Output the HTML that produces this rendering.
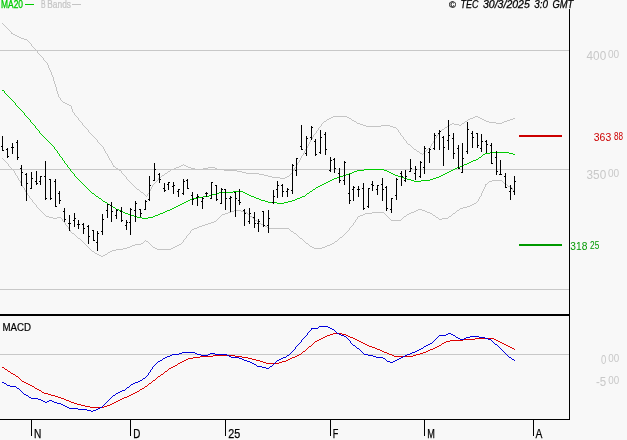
<!DOCTYPE html>
<html><head><meta charset="utf-8"><title>chart</title>
<style>
html,body{margin:0;padding:0;background:#f8f8f8;}
body{width:627px;height:440px;overflow:hidden;font-family:"Liberation Sans",sans-serif;}
svg{display:block;will-change:transform;}
text{font-family:"Liberation Sans",sans-serif;}
</style></head><body>
<svg width="627" height="440" viewBox="0 0 627 440">
<rect x="0" y="0" width="627" height="440" fill="#f8f8f8"/>

<rect x="0" y="50" width="569" height="1" fill="#c8c8c8"/>
<rect x="0" y="169" width="569" height="1" fill="#c8c8c8"/>
<rect x="0" y="289" width="569" height="1" fill="#c8c8c8"/>
<rect x="0" y="354" width="569" height="1" fill="#c8c8c8"/>
<path d="M2 23h1v1h-1zM3 24h1v1h-1zM4 25h1v1h-1zM5 26h1v1h-1zM6 27h1v1h-1zM7 28h1v1h-1zM8 29h1v1h-1zM9 30h1v1h-1zM10 31h1v1h-1zM11 32h1v2h-1zM12 33h1v1h-1zM13 34h1v1h-1zM14 34h1v1h-1zM15 35h1v1h-1zM16 35h1v1h-1zM17 36h1v1h-1zM18 36h1v1h-1zM19 37h1v1h-1zM20 37h1v1h-1zM21 38h1v1h-1zM22 38h1v1h-1zM23 38h1v1h-1zM24 39h1v1h-1zM25 39h1v1h-1zM26 39h1v1h-1zM27 40h1v1h-1zM28 41h1v1h-1zM29 42h1v1h-1zM30 43h1v1h-1zM31 44h1v2h-1zM32 46h1v1h-1zM33 47h1v1h-1zM34 48h1v1h-1zM35 49h1v1h-1zM36 50h1v1h-1zM37 51h1v2h-1zM38 53h1v1h-1zM39 54h1v1h-1zM40 55h1v1h-1zM41 56h1v1h-1zM42 57h1v1h-1zM43 58h1v2h-1zM44 60h1v1h-1zM45 61h1v1h-1zM46 62h1v1h-1zM47 63h1v2h-1zM48 65h1v3h-1zM49 68h1v2h-1zM50 70h1v2h-1zM51 72h1v3h-1zM52 75h1v2h-1zM53 77h1v4h-1zM54 81h1v3h-1zM55 84h1v3h-1zM56 87h1v4h-1zM57 91h1v3h-1zM58 94h1v3h-1zM59 97h1v1h-1zM60 98h1v2h-1zM61 100h1v1h-1zM62 101h1v1h-1zM63 102h1v1h-1zM64 102h1v1h-1zM65 103h1v1h-1zM66 103h1v1h-1zM67 104h1v1h-1zM68 104h1v1h-1zM69 105h1v1h-1zM70 105h1v1h-1zM71 106h1v3h-1zM72 109h1v3h-1zM73 112h1v1h-1zM74 113h1v2h-1zM75 115h1v1h-1zM76 116h1v1h-1zM77 117h1v1h-1zM78 118h1v2h-1zM79 120h1v1h-1zM80 121h1v1h-1zM81 122h1v1h-1zM82 123h1v2h-1zM83 125h1v1h-1zM84 126h1v1h-1zM85 127h1v1h-1zM86 128h1v1h-1zM87 129h1v1h-1zM88 130h1v2h-1zM89 132h1v1h-1zM90 133h1v1h-1zM91 134h1v1h-1zM92 135h1v1h-1zM93 136h1v1h-1zM94 137h1v1h-1zM95 138h1v1h-1zM96 139h1v1h-1zM97 140h1v2h-1zM98 142h1v1h-1zM99 143h1v1h-1zM100 144h1v1h-1zM101 145h1v1h-1zM102 146h1v1h-1zM103 147h1v2h-1zM104 149h1v2h-1zM105 151h1v2h-1zM106 153h1v1h-1zM107 154h1v2h-1zM108 156h1v2h-1zM109 158h1v2h-1zM110 160h1v1h-1zM111 161h1v2h-1zM112 163h1v2h-1zM113 165h1v2h-1zM114 166h1v1h-1zM115 167h1v1h-1zM116 168h1v1h-1zM117 168h1v1h-1zM118 169h1v1h-1zM119 170h1v1h-1zM120 170h1v1h-1zM121 171h1v2h-1zM122 173h1v1h-1zM123 174h1v1h-1zM124 175h1v1h-1zM125 176h1v1h-1zM126 177h1v2h-1zM127 179h1v1h-1zM128 180h1v1h-1zM129 181h1v1h-1zM130 182h1v1h-1zM131 183h1v1h-1zM132 184h1v1h-1zM133 185h1v1h-1zM134 186h1v1h-1zM135 187h1v1h-1zM136 188h1v1h-1zM137 189h1v1h-1zM138 189h1v1h-1zM139 190h1v1h-1zM140 191h1v1h-1zM141 192h1v1h-1zM142 192h1v1h-1zM143 193h1v1h-1zM144 194h1v1h-1zM145 195h1v1h-1zM146 196h1v1h-1zM147 194h1v2h-1zM148 193h1v1h-1zM149 191h1v2h-1zM150 189h1v2h-1zM151 187h1v2h-1zM152 185h1v2h-1zM153 184h1v1h-1zM154 183h1v1h-1zM155 182h1v1h-1zM156 181h1v1h-1zM157 180h1v1h-1zM158 178h1v2h-1zM159 177h1v1h-1zM160 177h1v1h-1zM161 176h1v1h-1zM162 175h1v1h-1zM163 175h1v1h-1zM164 174h1v1h-1zM165 173h1v1h-1zM166 173h1v1h-1zM167 172h1v1h-1zM168 171h1v1h-1zM169 171h1v1h-1zM170 170h1v1h-1zM171 169h1v1h-1zM172 169h1v1h-1zM173 169h1v1h-1zM174 168h1v1h-1zM175 168h1v1h-1zM176 167h1v1h-1zM177 167h1v1h-1zM178 167h1v1h-1zM179 166h1v1h-1zM180 166h1v1h-1zM181 165h1v1h-1zM182 165h1v1h-1zM183 164h1v1h-1zM184 165h1v1h-1zM185 165h1v1h-1zM186 166h1v1h-1zM187 166h1v1h-1zM188 167h1v1h-1zM189 167h1v1h-1zM190 167h1v1h-1zM191 168h1v1h-1zM192 168h1v1h-1zM193 168h1v1h-1zM194 168h1v1h-1zM195 169h1v1h-1zM196 169h1v1h-1zM197 169h1v1h-1zM198 169h1v1h-1zM199 169h1v1h-1zM200 169h1v1h-1zM201 169h1v1h-1zM202 169h1v1h-1zM203 168h1v1h-1zM204 168h1v1h-1zM205 168h1v1h-1zM206 168h1v1h-1zM207 168h1v1h-1zM208 167h1v1h-1zM209 167h1v1h-1zM210 167h1v1h-1zM211 167h1v1h-1zM212 167h1v1h-1zM213 167h1v1h-1zM214 167h1v1h-1zM215 168h1v1h-1zM216 168h1v1h-1zM217 169h1v1h-1zM218 169h1v1h-1zM219 169h1v1h-1zM220 169h1v1h-1zM221 169h1v1h-1zM222 169h1v1h-1zM223 169h1v1h-1zM224 170h1v1h-1zM225 170h1v1h-1zM226 170h1v1h-1zM227 170h1v1h-1zM228 170h1v1h-1zM229 170h1v1h-1zM230 170h1v1h-1zM231 170h1v1h-1zM232 170h1v1h-1zM233 170h1v1h-1zM234 170h1v1h-1zM235 170h1v1h-1zM236 170h1v1h-1zM237 171h1v1h-1zM238 171h1v1h-1zM239 171h1v1h-1zM240 171h1v1h-1zM241 171h1v1h-1zM242 172h1v1h-1zM243 172h1v1h-1zM244 172h1v1h-1zM245 172h1v1h-1zM246 173h1v1h-1zM247 173h1v1h-1zM248 173h1v1h-1zM249 173h1v1h-1zM250 173h1v1h-1zM251 173h1v1h-1zM252 173h1v1h-1zM253 173h1v1h-1zM254 173h1v1h-1zM255 173h1v1h-1zM256 173h1v1h-1zM257 173h1v1h-1zM258 173h1v1h-1zM259 174h1v1h-1zM260 174h1v1h-1zM261 174h1v1h-1zM262 174h1v1h-1zM263 174h1v1h-1zM264 175h1v1h-1zM265 175h1v1h-1zM266 175h1v1h-1zM267 175h1v1h-1zM268 176h1v1h-1zM269 176h1v1h-1zM270 176h1v1h-1zM271 176h1v1h-1zM272 177h1v1h-1zM273 177h1v1h-1zM274 177h1v1h-1zM275 177h1v1h-1zM276 177h1v1h-1zM277 177h1v1h-1zM278 177h1v1h-1zM279 177h1v1h-1zM280 178h1v1h-1zM281 178h1v1h-1zM282 178h1v1h-1zM283 178h1v1h-1zM284 178h1v1h-1zM285 177h1v1h-1zM286 177h1v1h-1zM287 176h1v1h-1zM288 176h1v1h-1zM289 175h1v1h-1zM290 174h1v1h-1zM291 173h1v1h-1zM292 171h1v2h-1zM293 170h1v1h-1zM294 168h1v2h-1zM295 167h1v1h-1zM296 165h1v2h-1zM297 163h1v2h-1zM298 162h1v1h-1zM299 160h1v2h-1zM300 158h1v2h-1zM301 156h1v2h-1zM302 155h1v1h-1zM303 153h1v2h-1zM304 151h1v2h-1zM305 149h1v2h-1zM306 148h1v1h-1zM307 146h1v2h-1zM308 144h1v2h-1zM309 142h1v2h-1zM310 140h1v2h-1zM311 139h1v1h-1zM312 137h1v2h-1zM313 135h1v2h-1zM314 134h1v1h-1zM315 133h1v1h-1zM316 131h1v2h-1zM317 130h1v1h-1zM318 128h1v2h-1zM319 127h1v1h-1zM320 126h1v1h-1zM321 124h1v2h-1zM322 123h1v1h-1zM323 122h1v1h-1zM324 121h1v1h-1zM325 121h1v1h-1zM326 120h1v1h-1zM327 119h1v1h-1zM328 119h1v1h-1zM329 118h1v1h-1zM330 118h1v1h-1zM331 117h1v1h-1zM332 117h1v1h-1zM333 116h1v1h-1zM334 116h1v1h-1zM335 116h1v1h-1zM336 116h1v1h-1zM337 116h1v1h-1zM338 116h1v1h-1zM339 116h1v1h-1zM340 116h1v1h-1zM341 116h1v1h-1zM342 116h1v1h-1zM343 116h1v1h-1zM344 116h1v1h-1zM345 116h1v1h-1zM346 116h1v1h-1zM347 117h1v1h-1zM348 117h1v1h-1zM349 118h1v1h-1zM350 118h1v1h-1zM351 119h1v1h-1zM352 120h1v1h-1zM353 120h1v1h-1zM354 121h1v1h-1zM355 121h1v1h-1zM356 122h1v1h-1zM357 123h1v1h-1zM358 123h1v1h-1zM359 123h1v1h-1zM360 124h1v1h-1zM361 124h1v1h-1zM362 124h1v1h-1zM363 125h1v1h-1zM364 125h1v1h-1zM365 125h1v1h-1zM366 126h1v1h-1zM367 126h1v1h-1zM368 126h1v1h-1zM369 126h1v1h-1zM370 126h1v1h-1zM371 126h1v1h-1zM372 126h1v1h-1zM373 126h1v1h-1zM374 126h1v1h-1zM375 126h1v1h-1zM376 126h1v1h-1zM377 126h1v1h-1zM378 126h1v1h-1zM379 126h1v1h-1zM380 126h1v1h-1zM381 125h1v1h-1zM382 125h1v1h-1zM383 125h1v1h-1zM384 125h1v1h-1zM385 125h1v1h-1zM386 125h1v1h-1zM387 125h1v1h-1zM388 125h1v1h-1zM389 125h1v1h-1zM390 126h1v1h-1zM391 126h1v1h-1zM392 126h1v1h-1zM393 127h1v1h-1zM394 127h1v1h-1zM395 127h1v1h-1zM396 128h1v1h-1zM397 129h1v1h-1zM398 130h1v2h-1zM399 132h1v1h-1zM400 133h1v2h-1zM401 135h1v1h-1zM402 136h1v1h-1zM403 137h1v2h-1zM404 139h1v1h-1zM405 140h1v1h-1zM406 141h1v2h-1zM407 143h1v1h-1zM408 144h1v1h-1zM409 144h1v1h-1zM410 145h1v1h-1zM411 146h1v1h-1zM412 147h1v1h-1zM413 148h1v1h-1zM414 149h1v1h-1zM415 149h1v1h-1zM416 150h1v1h-1zM417 151h1v1h-1zM418 151h1v1h-1zM419 152h1v1h-1zM420 153h1v1h-1zM421 153h1v1h-1zM422 154h1v1h-1zM423 153h1v1h-1zM424 152h1v1h-1zM425 151h1v1h-1zM426 150h1v1h-1zM427 149h1v1h-1zM428 148h1v1h-1zM429 148h1v1h-1zM430 146h1v2h-1zM431 144h1v2h-1zM432 143h1v1h-1zM433 141h1v2h-1zM434 139h1v2h-1zM435 138h1v1h-1zM436 136h1v2h-1zM437 135h1v1h-1zM438 133h1v2h-1zM439 131h1v2h-1zM440 131h1v1h-1zM441 130h1v1h-1zM442 129h1v1h-1zM443 129h1v1h-1zM444 128h1v1h-1zM445 127h1v1h-1zM446 127h1v1h-1zM447 126h1v1h-1zM448 126h1v1h-1zM449 125h1v1h-1zM450 124h1v1h-1zM451 124h1v1h-1zM452 123h1v1h-1zM453 123h1v1h-1zM454 124h1v1h-1zM455 124h1v1h-1zM456 124h1v1h-1zM457 124h1v1h-1zM458 124h1v1h-1zM459 125h1v1h-1zM460 125h1v1h-1zM461 124h1v1h-1zM462 123h1v1h-1zM463 123h1v1h-1zM464 122h1v1h-1zM465 121h1v1h-1zM466 121h1v1h-1zM467 120h1v1h-1zM468 119h1v1h-1zM469 119h1v1h-1zM470 118h1v1h-1zM471 118h1v1h-1zM472 118h1v1h-1zM473 117h1v1h-1zM474 117h1v1h-1zM475 116h1v1h-1zM476 116h1v1h-1zM477 116h1v1h-1zM478 117h1v1h-1zM479 117h1v1h-1zM480 118h1v1h-1zM481 118h1v1h-1zM482 119h1v1h-1zM483 119h1v1h-1zM484 120h1v1h-1zM485 120h1v1h-1zM486 121h1v1h-1zM487 121h1v1h-1zM488 121h1v1h-1zM489 122h1v1h-1zM490 122h1v1h-1zM491 122h1v1h-1zM492 122h1v1h-1zM493 122h1v1h-1zM494 122h1v1h-1zM495 122h1v1h-1zM496 123h1v1h-1zM497 123h1v1h-1zM498 123h1v1h-1zM499 123h1v1h-1zM500 123h1v1h-1zM501 123h1v1h-1zM502 122h1v1h-1zM503 122h1v1h-1zM504 121h1v1h-1zM505 121h1v1h-1zM506 121h1v1h-1zM507 120h1v1h-1zM508 120h1v1h-1zM509 120h1v1h-1zM510 119h1v1h-1zM511 119h1v1h-1zM512 119h1v1h-1zM513 118h1v1h-1zM514 118h1v1h-1z" fill="#c4c4c4" shape-rendering="crispEdges"/>
<path d="M2 158h1v1h-1zM3 159h1v1h-1zM4 160h1v1h-1zM5 161h1v1h-1zM6 162h1v1h-1zM7 163h1v1h-1zM8 164h1v2h-1zM9 166h1v1h-1zM10 167h1v1h-1zM11 168h1v1h-1zM12 169h1v1h-1zM13 170h1v1h-1zM14 171h1v2h-1zM15 173h1v2h-1zM16 175h1v1h-1zM17 176h1v2h-1zM18 178h1v2h-1zM19 180h1v1h-1zM20 181h1v2h-1zM21 183h1v2h-1zM22 185h1v2h-1zM23 187h1v1h-1zM24 188h1v2h-1zM25 190h1v2h-1zM26 192h1v1h-1zM27 193h1v2h-1zM28 195h1v1h-1zM29 196h1v2h-1zM30 198h1v1h-1zM31 199h1v1h-1zM32 200h1v2h-1zM33 202h1v1h-1zM34 203h1v1h-1zM35 204h1v1h-1zM36 205h1v2h-1zM37 207h1v1h-1zM38 208h1v1h-1zM39 209h1v1h-1zM40 210h1v1h-1zM41 211h1v1h-1zM42 212h1v1h-1zM43 213h1v1h-1zM44 214h1v1h-1zM45 215h1v1h-1zM46 216h1v1h-1zM47 216h1v1h-1zM48 216h1v1h-1zM49 217h1v1h-1zM50 217h1v1h-1zM51 217h1v1h-1zM52 217h1v1h-1zM53 218h1v1h-1zM54 218h1v1h-1zM55 218h1v1h-1zM56 218h1v1h-1zM57 217h1v1h-1zM58 217h1v1h-1zM59 217h1v1h-1zM60 217h1v1h-1zM61 218h1v1h-1zM62 219h1v2h-1zM63 221h1v1h-1zM64 222h1v1h-1zM65 223h1v2h-1zM66 225h1v1h-1zM67 226h1v1h-1zM68 227h1v2h-1zM69 229h1v1h-1zM70 230h1v2h-1zM71 232h1v1h-1zM72 233h1v1h-1zM73 233h1v1h-1zM74 234h1v1h-1zM75 235h1v1h-1zM76 236h1v1h-1zM77 237h1v1h-1zM78 238h1v1h-1zM79 238h1v1h-1zM80 239h1v1h-1zM81 240h1v1h-1zM82 241h1v1h-1zM83 242h1v1h-1zM84 243h1v1h-1zM85 244h1v1h-1zM86 245h1v1h-1zM87 246h1v1h-1zM88 247h1v1h-1zM89 248h1v1h-1zM90 249h1v1h-1zM91 250h1v1h-1zM92 251h1v1h-1zM93 251h1v1h-1zM94 252h1v1h-1zM95 253h1v1h-1zM96 253h1v1h-1zM97 254h1v1h-1zM98 254h1v1h-1zM99 255h1v1h-1zM100 255h1v1h-1zM101 256h1v1h-1zM102 256h1v1h-1zM103 255h1v1h-1zM104 255h1v1h-1zM105 254h1v1h-1zM106 254h1v1h-1zM107 253h1v1h-1zM108 252h1v1h-1zM109 252h1v1h-1zM110 251h1v1h-1zM111 251h1v1h-1zM112 250h1v1h-1zM113 250h1v1h-1zM114 250h1v1h-1zM115 250h1v1h-1zM116 249h1v1h-1zM117 249h1v1h-1zM118 249h1v1h-1zM119 249h1v1h-1zM120 249h1v1h-1zM121 249h1v1h-1zM122 249h1v1h-1zM123 248h1v1h-1zM124 248h1v1h-1zM125 248h1v1h-1zM126 248h1v1h-1zM127 247h1v1h-1zM128 247h1v1h-1zM129 247h1v1h-1zM130 246h1v1h-1zM131 246h1v1h-1zM132 245h1v1h-1zM133 245h1v1h-1zM134 245h1v1h-1zM135 244h1v1h-1zM136 244h1v1h-1zM137 244h1v1h-1zM138 244h1v1h-1zM139 244h1v1h-1zM140 244h1v1h-1zM141 243h1v1h-1zM142 243h1v1h-1zM143 242h1v1h-1zM144 241h1v1h-1zM145 240h1v1h-1zM146 241h1v1h-1zM147 241h1v1h-1zM148 242h1v1h-1zM149 243h1v1h-1zM150 244h1v1h-1zM151 245h1v1h-1zM152 246h1v1h-1zM153 247h1v1h-1zM154 247h1v1h-1zM155 248h1v1h-1zM156 248h1v1h-1zM157 249h1v1h-1zM158 249h1v1h-1zM159 249h1v1h-1zM160 249h1v1h-1zM161 249h1v1h-1zM162 249h1v1h-1zM163 249h1v1h-1zM164 249h1v1h-1zM165 249h1v1h-1zM166 249h1v1h-1zM167 249h1v1h-1zM168 249h1v1h-1zM169 249h1v1h-1zM170 249h1v1h-1zM171 248h1v1h-1zM172 248h1v1h-1zM173 247h1v1h-1zM174 247h1v1h-1zM175 246h1v1h-1zM176 246h1v1h-1zM177 245h1v1h-1zM178 245h1v1h-1zM179 244h1v1h-1zM180 244h1v1h-1zM181 243h1v1h-1zM182 242h1v1h-1zM183 240h1v2h-1zM184 239h1v1h-1zM185 238h1v1h-1zM186 236h1v2h-1zM187 235h1v1h-1zM188 234h1v1h-1zM189 233h1v1h-1zM190 231h1v2h-1zM191 230h1v1h-1zM192 229h1v1h-1zM193 229h1v1h-1zM194 228h1v1h-1zM195 228h1v1h-1zM196 228h1v1h-1zM197 227h1v1h-1zM198 227h1v1h-1zM199 226h1v1h-1zM200 226h1v1h-1zM201 226h1v1h-1zM202 225h1v1h-1zM203 225h1v1h-1zM204 225h1v1h-1zM205 224h1v1h-1zM206 224h1v1h-1zM207 224h1v1h-1zM208 223h1v1h-1zM209 223h1v1h-1zM210 223h1v1h-1zM211 222h1v1h-1zM212 222h1v1h-1zM213 222h1v1h-1zM214 221h1v1h-1zM215 221h1v1h-1zM216 220h1v1h-1zM217 219h1v1h-1zM218 218h1v1h-1zM219 217h1v1h-1zM220 216h1v1h-1zM221 215h1v1h-1zM222 214h1v1h-1zM223 214h1v1h-1zM224 214h1v1h-1zM225 213h1v1h-1zM226 213h1v1h-1zM227 213h1v1h-1zM228 212h1v1h-1zM229 212h1v1h-1zM230 212h1v1h-1zM231 211h1v1h-1zM232 211h1v1h-1zM233 211h1v1h-1zM234 210h1v1h-1zM235 210h1v1h-1zM236 210h1v1h-1zM237 210h1v1h-1zM238 210h1v1h-1zM239 210h1v1h-1zM240 210h1v1h-1zM241 211h1v1h-1zM242 211h1v1h-1zM243 211h1v1h-1zM244 212h1v1h-1zM245 212h1v1h-1zM246 212h1v1h-1zM247 213h1v1h-1zM248 214h1v1h-1zM249 215h1v1h-1zM250 216h1v1h-1zM251 216h1v1h-1zM252 217h1v1h-1zM253 218h1v1h-1zM254 219h1v1h-1zM255 220h1v1h-1zM256 220h1v1h-1zM257 221h1v1h-1zM258 222h1v1h-1zM259 223h1v1h-1zM260 223h1v1h-1zM261 224h1v1h-1zM262 224h1v1h-1zM263 225h1v1h-1zM264 225h1v1h-1zM265 226h1v1h-1zM266 226h1v1h-1zM267 227h1v1h-1zM268 227h1v1h-1zM269 228h1v1h-1zM270 228h1v1h-1zM271 228h1v1h-1zM272 228h1v1h-1zM273 228h1v1h-1zM274 228h1v1h-1zM275 228h1v1h-1zM276 228h1v1h-1zM277 228h1v1h-1zM278 228h1v1h-1zM279 228h1v1h-1zM280 228h1v1h-1zM281 228h1v1h-1zM282 228h1v1h-1zM283 228h1v1h-1zM284 228h1v1h-1zM285 228h1v1h-1zM286 228h1v1h-1zM287 228h1v1h-1zM288 228h1v1h-1zM289 229h1v1h-1zM290 230h1v1h-1zM291 231h1v1h-1zM292 231h1v1h-1zM293 232h1v1h-1zM294 233h1v1h-1zM295 233h1v1h-1zM296 234h1v1h-1zM297 235h1v1h-1zM298 236h1v1h-1zM299 237h1v1h-1zM300 238h1v1h-1zM301 238h1v1h-1zM302 239h1v1h-1zM303 240h1v1h-1zM304 241h1v1h-1zM305 242h1v1h-1zM306 243h1v1h-1zM307 243h1v1h-1zM308 244h1v1h-1zM309 245h1v1h-1zM310 246h1v1h-1zM311 246h1v1h-1zM312 247h1v1h-1zM313 247h1v1h-1zM314 248h1v1h-1zM315 248h1v1h-1zM316 248h1v1h-1zM317 248h1v1h-1zM318 248h1v1h-1zM319 248h1v1h-1zM320 248h1v1h-1zM321 248h1v1h-1zM322 247h1v1h-1zM323 247h1v1h-1zM324 247h1v1h-1zM325 246h1v1h-1zM326 246h1v1h-1zM327 245h1v1h-1zM328 245h1v1h-1zM329 245h1v1h-1zM330 244h1v1h-1zM331 244h1v1h-1zM332 243h1v1h-1zM333 243h1v1h-1zM334 242h1v1h-1zM335 241h1v1h-1zM336 241h1v1h-1zM337 240h1v1h-1zM338 239h1v1h-1zM339 238h1v1h-1zM340 237h1v1h-1zM341 237h1v1h-1zM342 236h1v1h-1zM343 235h1v1h-1zM344 234h1v1h-1zM345 233h1v1h-1zM346 232h1v1h-1zM347 231h1v1h-1zM348 230h1v1h-1zM349 228h1v2h-1zM350 227h1v1h-1zM351 226h1v1h-1zM352 225h1v1h-1zM353 223h1v2h-1zM354 222h1v1h-1zM355 220h1v2h-1zM356 219h1v1h-1zM357 217h1v2h-1zM358 216h1v1h-1zM359 216h1v1h-1zM360 215h1v1h-1zM361 215h1v1h-1zM362 215h1v1h-1zM363 214h1v1h-1zM364 214h1v1h-1zM365 213h1v1h-1zM366 213h1v1h-1zM367 213h1v1h-1zM368 213h1v1h-1zM369 213h1v1h-1zM370 213h1v1h-1zM371 213h1v1h-1zM372 212h1v1h-1zM373 212h1v1h-1zM374 212h1v1h-1zM375 212h1v1h-1zM376 212h1v1h-1zM377 212h1v1h-1zM378 212h1v1h-1zM379 212h1v1h-1zM380 212h1v1h-1zM381 212h1v1h-1zM382 212h1v1h-1zM383 212h1v1h-1zM384 213h1v1h-1zM385 214h1v1h-1zM386 215h1v1h-1zM387 216h1v1h-1zM388 217h1v1h-1zM389 218h1v1h-1zM390 219h1v1h-1zM391 220h1v1h-1zM392 220h1v1h-1zM393 220h1v1h-1zM394 220h1v1h-1zM395 220h1v1h-1zM396 220h1v1h-1zM397 220h1v1h-1zM398 220h1v1h-1zM399 220h1v1h-1zM400 220h1v1h-1zM401 219h1v1h-1zM402 218h1v1h-1zM403 217h1v1h-1zM404 216h1v1h-1zM405 216h1v1h-1zM406 215h1v1h-1zM407 214h1v1h-1zM408 214h1v1h-1zM409 213h1v1h-1zM410 213h1v1h-1zM411 212h1v1h-1zM412 212h1v1h-1zM413 212h1v1h-1zM414 211h1v1h-1zM415 211h1v1h-1zM416 210h1v1h-1zM417 210h1v1h-1zM418 209h1v1h-1zM419 209h1v1h-1zM420 209h1v1h-1zM421 209h1v1h-1zM422 210h1v1h-1zM423 210h1v1h-1zM424 210h1v1h-1zM425 211h1v1h-1zM426 211h1v1h-1zM427 212h1v1h-1zM428 212h1v1h-1zM429 212h1v1h-1zM430 213h1v1h-1zM431 213h1v1h-1zM432 214h1v1h-1zM433 215h1v1h-1zM434 215h1v1h-1zM435 216h1v1h-1zM436 217h1v1h-1zM437 217h1v1h-1zM438 218h1v1h-1zM439 219h1v1h-1zM440 219h1v1h-1zM441 219h1v1h-1zM442 218h1v1h-1zM443 218h1v1h-1zM444 218h1v1h-1zM445 218h1v1h-1zM446 218h1v1h-1zM447 218h1v1h-1zM448 217h1v1h-1zM449 216h1v1h-1zM450 216h1v1h-1zM451 215h1v1h-1zM452 214h1v1h-1zM453 213h1v1h-1zM454 213h1v1h-1zM455 212h1v1h-1zM456 211h1v1h-1zM457 210h1v1h-1zM458 210h1v1h-1zM459 209h1v1h-1zM460 208h1v1h-1zM461 208h1v1h-1zM462 208h1v1h-1zM463 207h1v1h-1zM464 207h1v1h-1zM465 207h1v1h-1zM466 207h1v1h-1zM467 206h1v1h-1zM468 206h1v1h-1zM469 206h1v1h-1zM470 205h1v1h-1zM471 205h1v1h-1zM472 204h1v1h-1zM473 204h1v1h-1zM474 203h1v1h-1zM475 203h1v1h-1zM476 202h1v1h-1zM477 201h1v1h-1zM478 199h1v2h-1zM479 197h1v2h-1zM480 196h1v1h-1zM481 193h1v3h-1zM482 191h1v2h-1zM483 189h1v2h-1zM484 187h1v2h-1zM485 184h1v3h-1zM486 184h1v1h-1zM487 183h1v1h-1zM488 182h1v1h-1zM489 181h1v1h-1zM490 181h1v1h-1zM491 181h1v1h-1zM492 180h1v1h-1zM493 180h1v1h-1zM494 180h1v1h-1zM495 180h1v1h-1zM496 180h1v1h-1zM497 180h1v1h-1zM498 180h1v1h-1zM499 180h1v1h-1zM500 180h1v1h-1zM501 180h1v1h-1zM502 181h1v1h-1zM503 182h1v1h-1zM504 183h1v1h-1zM505 183h1v1h-1zM506 184h1v1h-1zM507 185h1v1h-1zM508 186h1v1h-1zM509 186h1v1h-1zM510 187h1v1h-1zM511 187h1v1h-1zM512 188h1v2h-1zM513 190h1v1h-1zM514 191h1v1h-1z" fill="#c4c4c4" shape-rendering="crispEdges"/>
<path d="M2 90h1v1h-1zM3 90h1v1h-1zM4 91h1v2h-1zM5 93h1v1h-1zM6 94h1v1h-1zM7 95h1v1h-1zM8 96h1v1h-1zM9 97h1v1h-1zM10 98h1v1h-1zM11 99h1v1h-1zM12 100h1v1h-1zM13 101h1v1h-1zM14 102h1v1h-1zM15 103h1v2h-1zM16 105h1v1h-1zM17 106h1v1h-1zM18 107h1v1h-1zM19 108h1v1h-1zM20 109h1v1h-1zM21 110h1v1h-1zM22 111h1v1h-1zM23 112h1v1h-1zM24 113h1v2h-1zM25 115h1v1h-1zM26 116h1v1h-1zM27 117h1v1h-1zM28 118h1v1h-1zM29 119h1v1h-1zM30 120h1v2h-1zM31 122h1v1h-1zM32 123h1v1h-1zM33 124h1v1h-1zM34 125h1v1h-1zM35 126h1v2h-1zM36 128h1v1h-1zM37 129h1v1h-1zM38 130h1v1h-1zM39 131h1v2h-1zM40 133h1v1h-1zM41 134h1v1h-1zM42 135h1v1h-1zM43 136h1v1h-1zM44 137h1v1h-1zM45 138h1v1h-1zM46 139h1v1h-1zM47 140h1v1h-1zM48 141h1v1h-1zM49 142h1v1h-1zM50 143h1v1h-1zM51 144h1v1h-1zM52 145h1v1h-1zM53 146h1v1h-1zM54 147h1v2h-1zM55 149h1v1h-1zM56 150h1v1h-1zM57 151h1v2h-1zM58 153h1v1h-1zM59 154h1v2h-1zM60 156h1v1h-1zM61 157h1v1h-1zM62 158h1v2h-1zM63 160h1v1h-1zM64 161h1v2h-1zM65 163h1v1h-1zM66 164h1v1h-1zM67 165h1v2h-1zM68 167h1v1h-1zM69 168h1v1h-1zM70 169h1v2h-1zM71 171h1v1h-1zM72 172h1v1h-1zM73 173h1v1h-1zM74 174h1v2h-1zM75 176h1v1h-1zM76 177h1v1h-1zM77 178h1v1h-1zM78 179h1v1h-1zM79 180h1v1h-1zM80 181h1v1h-1zM81 182h1v1h-1zM82 183h1v1h-1zM83 184h1v1h-1zM84 185h1v1h-1zM85 186h1v1h-1zM86 187h1v1h-1zM87 188h1v1h-1zM88 189h1v1h-1zM89 190h1v1h-1zM90 191h1v1h-1zM91 192h1v1h-1zM92 193h1v1h-1zM93 193h1v1h-1zM94 194h1v1h-1zM95 195h1v1h-1zM96 196h1v1h-1zM97 196h1v1h-1zM98 197h1v1h-1zM99 198h1v1h-1zM100 198h1v1h-1zM101 199h1v1h-1zM102 200h1v1h-1zM103 201h1v1h-1zM104 201h1v1h-1zM105 202h1v1h-1zM106 202h1v1h-1zM107 203h1v1h-1zM108 204h1v1h-1zM109 204h1v1h-1zM110 205h1v1h-1zM111 205h1v1h-1zM112 206h1v1h-1zM113 207h1v1h-1zM114 207h1v1h-1zM115 208h1v1h-1zM116 209h1v1h-1zM117 209h1v1h-1zM118 209h1v1h-1zM119 210h1v1h-1zM120 210h1v1h-1zM121 211h1v1h-1zM122 211h1v1h-1zM123 212h1v1h-1zM124 212h1v1h-1zM125 213h1v1h-1zM126 213h1v1h-1zM127 213h1v1h-1zM128 214h1v1h-1zM129 214h1v1h-1zM130 214h1v1h-1zM131 215h1v1h-1zM132 215h1v1h-1zM133 215h1v1h-1zM134 216h1v1h-1zM135 216h1v1h-1zM136 216h1v1h-1zM137 217h1v1h-1zM138 217h1v1h-1zM139 217h1v1h-1zM140 217h1v1h-1zM141 217h1v1h-1zM142 218h1v1h-1zM143 218h1v1h-1zM144 218h1v1h-1zM145 218h1v1h-1zM146 218h1v1h-1zM147 218h1v1h-1zM148 217h1v1h-1zM149 217h1v1h-1zM150 217h1v1h-1zM151 217h1v1h-1zM152 217h1v1h-1zM153 216h1v1h-1zM154 216h1v1h-1zM155 215h1v1h-1zM156 215h1v1h-1zM157 215h1v1h-1zM158 214h1v1h-1zM159 214h1v1h-1zM160 213h1v1h-1zM161 213h1v1h-1zM162 213h1v1h-1zM163 212h1v1h-1zM164 212h1v1h-1zM165 211h1v1h-1zM166 211h1v1h-1zM167 210h1v1h-1zM168 210h1v1h-1zM169 210h1v1h-1zM170 209h1v1h-1zM171 209h1v1h-1zM172 208h1v1h-1zM173 208h1v1h-1zM174 207h1v1h-1zM175 207h1v1h-1zM176 206h1v1h-1zM177 206h1v1h-1zM178 205h1v1h-1zM179 205h1v1h-1zM180 204h1v1h-1zM181 204h1v1h-1zM182 203h1v1h-1zM183 203h1v1h-1zM184 202h1v1h-1zM185 202h1v1h-1zM186 201h1v1h-1zM187 201h1v1h-1zM188 200h1v1h-1zM189 200h1v1h-1zM190 199h1v1h-1zM191 199h1v1h-1zM192 199h1v1h-1zM193 198h1v1h-1zM194 198h1v1h-1zM195 198h1v1h-1zM196 198h1v1h-1zM197 198h1v1h-1zM198 197h1v1h-1zM199 197h1v1h-1zM200 197h1v1h-1zM201 197h1v1h-1zM202 197h1v1h-1zM203 196h1v1h-1zM204 196h1v1h-1zM205 196h1v1h-1zM206 196h1v1h-1zM207 196h1v1h-1zM208 196h1v1h-1zM209 195h1v1h-1zM210 195h1v1h-1zM211 195h1v1h-1zM212 194h1v1h-1zM213 194h1v1h-1zM214 194h1v1h-1zM215 194h1v1h-1zM216 193h1v1h-1zM217 193h1v1h-1zM218 193h1v1h-1zM219 192h1v1h-1zM220 192h1v1h-1zM221 192h1v1h-1zM222 192h1v1h-1zM223 192h1v1h-1zM224 192h1v1h-1zM225 192h1v1h-1zM226 192h1v1h-1zM227 192h1v1h-1zM228 192h1v1h-1zM229 192h1v1h-1zM230 192h1v1h-1zM231 192h1v1h-1zM232 192h1v1h-1zM233 191h1v1h-1zM234 191h1v1h-1zM235 191h1v1h-1zM236 191h1v1h-1zM237 191h1v1h-1zM238 191h1v1h-1zM239 191h1v1h-1zM240 191h1v1h-1zM241 191h1v1h-1zM242 191h1v1h-1zM243 192h1v1h-1zM244 192h1v1h-1zM245 193h1v1h-1zM246 193h1v1h-1zM247 194h1v1h-1zM248 194h1v1h-1zM249 195h1v1h-1zM250 195h1v1h-1zM251 196h1v1h-1zM252 196h1v1h-1zM253 196h1v1h-1zM254 197h1v1h-1zM255 197h1v1h-1zM256 198h1v1h-1zM257 198h1v1h-1zM258 198h1v1h-1zM259 199h1v1h-1zM260 199h1v1h-1zM261 200h1v1h-1zM262 200h1v1h-1zM263 200h1v1h-1zM264 200h1v1h-1zM265 201h1v1h-1zM266 201h1v1h-1zM267 201h1v1h-1zM268 202h1v1h-1zM269 202h1v1h-1zM270 202h1v1h-1zM271 202h1v1h-1zM272 202h1v1h-1zM273 202h1v1h-1zM274 202h1v1h-1zM275 202h1v1h-1zM276 202h1v1h-1zM277 203h1v1h-1zM278 203h1v1h-1zM279 203h1v1h-1zM280 203h1v1h-1zM281 203h1v1h-1zM282 203h1v1h-1zM283 203h1v1h-1zM284 202h1v1h-1zM285 202h1v1h-1zM286 202h1v1h-1zM287 202h1v1h-1zM288 201h1v1h-1zM289 201h1v1h-1zM290 201h1v1h-1zM291 201h1v1h-1zM292 200h1v1h-1zM293 200h1v1h-1zM294 200h1v1h-1zM295 199h1v1h-1zM296 199h1v1h-1zM297 198h1v1h-1zM298 198h1v1h-1zM299 198h1v1h-1zM300 197h1v1h-1zM301 197h1v1h-1zM302 196h1v1h-1zM303 196h1v1h-1zM304 196h1v1h-1zM305 195h1v1h-1zM306 194h1v1h-1zM307 193h1v1h-1zM308 193h1v1h-1zM309 192h1v1h-1zM310 191h1v1h-1zM311 191h1v1h-1zM312 190h1v1h-1zM313 189h1v1h-1zM314 189h1v1h-1zM315 188h1v1h-1zM316 187h1v1h-1zM317 187h1v1h-1zM318 186h1v1h-1zM319 186h1v1h-1zM320 185h1v1h-1zM321 185h1v1h-1zM322 184h1v1h-1zM323 184h1v1h-1zM324 183h1v1h-1zM325 183h1v1h-1zM326 182h1v1h-1zM327 182h1v1h-1zM328 181h1v1h-1zM329 181h1v1h-1zM330 180h1v1h-1zM331 180h1v1h-1zM332 179h1v1h-1zM333 179h1v1h-1zM334 178h1v1h-1zM335 178h1v1h-1zM336 178h1v1h-1zM337 177h1v1h-1zM338 177h1v1h-1zM339 177h1v1h-1zM340 176h1v1h-1zM341 176h1v1h-1zM342 176h1v1h-1zM343 175h1v1h-1zM344 175h1v1h-1zM345 175h1v1h-1zM346 174h1v1h-1zM347 174h1v1h-1zM348 174h1v1h-1zM349 173h1v1h-1zM350 173h1v1h-1zM351 173h1v1h-1zM352 172h1v1h-1zM353 172h1v1h-1zM354 171h1v1h-1zM355 171h1v1h-1zM356 171h1v1h-1zM357 170h1v1h-1zM358 170h1v1h-1zM359 170h1v1h-1zM360 170h1v1h-1zM361 170h1v1h-1zM362 170h1v1h-1zM363 170h1v1h-1zM364 169h1v1h-1zM365 169h1v1h-1zM366 169h1v1h-1zM367 169h1v1h-1zM368 169h1v1h-1zM369 169h1v1h-1zM370 169h1v1h-1zM371 169h1v1h-1zM372 169h1v1h-1zM373 169h1v1h-1zM374 169h1v1h-1zM375 169h1v1h-1zM376 169h1v1h-1zM377 169h1v1h-1zM378 169h1v1h-1zM379 169h1v1h-1zM380 169h1v1h-1zM381 169h1v1h-1zM382 169h1v1h-1zM383 169h1v1h-1zM384 170h1v1h-1zM385 170h1v1h-1zM386 170h1v1h-1zM387 171h1v1h-1zM388 171h1v1h-1zM389 172h1v1h-1zM390 172h1v1h-1zM391 173h1v1h-1zM392 173h1v1h-1zM393 174h1v1h-1zM394 174h1v1h-1zM395 175h1v1h-1zM396 175h1v1h-1zM397 175h1v1h-1zM398 176h1v1h-1zM399 176h1v1h-1zM400 176h1v1h-1zM401 177h1v1h-1zM402 177h1v1h-1zM403 177h1v1h-1zM404 178h1v1h-1zM405 178h1v1h-1zM406 178h1v1h-1zM407 179h1v1h-1zM408 179h1v1h-1zM409 179h1v1h-1zM410 179h1v1h-1zM411 180h1v1h-1zM412 180h1v1h-1zM413 180h1v1h-1zM414 181h1v1h-1zM415 181h1v1h-1zM416 181h1v1h-1zM417 181h1v1h-1zM418 181h1v1h-1zM419 181h1v1h-1zM420 181h1v1h-1zM421 180h1v1h-1zM422 180h1v1h-1zM423 180h1v1h-1zM424 180h1v1h-1zM425 180h1v1h-1zM426 180h1v1h-1zM427 180h1v1h-1zM428 180h1v1h-1zM429 180h1v1h-1zM430 179h1v1h-1zM431 179h1v1h-1zM432 179h1v1h-1zM433 178h1v1h-1zM434 178h1v1h-1zM435 178h1v1h-1zM436 177h1v1h-1zM437 177h1v1h-1zM438 177h1v1h-1zM439 176h1v1h-1zM440 176h1v1h-1zM441 175h1v1h-1zM442 175h1v1h-1zM443 174h1v1h-1zM444 174h1v1h-1zM445 173h1v1h-1zM446 173h1v1h-1zM447 172h1v1h-1zM448 172h1v1h-1zM449 171h1v1h-1zM450 171h1v1h-1zM451 170h1v1h-1zM452 170h1v1h-1zM453 169h1v1h-1zM454 169h1v1h-1zM455 168h1v1h-1zM456 168h1v1h-1zM457 167h1v1h-1zM458 167h1v1h-1zM459 167h1v1h-1zM460 166h1v1h-1zM461 166h1v1h-1zM462 165h1v1h-1zM463 165h1v1h-1zM464 164h1v1h-1zM465 164h1v1h-1zM466 164h1v1h-1zM467 163h1v1h-1zM468 163h1v1h-1zM469 162h1v1h-1zM470 162h1v1h-1zM471 161h1v1h-1zM472 161h1v1h-1zM473 160h1v1h-1zM474 160h1v1h-1zM475 160h1v1h-1zM476 159h1v1h-1zM477 159h1v1h-1zM478 158h1v1h-1zM479 157h1v1h-1zM480 157h1v1h-1zM481 156h1v1h-1zM482 155h1v1h-1zM483 154h1v1h-1zM484 154h1v1h-1zM485 153h1v1h-1zM486 153h1v1h-1zM487 153h1v1h-1zM488 153h1v1h-1zM489 153h1v1h-1zM490 152h1v1h-1zM491 152h1v1h-1zM492 152h1v1h-1zM493 152h1v1h-1zM494 152h1v1h-1zM495 152h1v1h-1zM496 152h1v1h-1zM497 152h1v1h-1zM498 152h1v1h-1zM499 152h1v1h-1zM500 152h1v1h-1zM501 152h1v1h-1zM502 152h1v1h-1zM503 152h1v1h-1zM504 152h1v1h-1zM505 152h1v1h-1zM506 152h1v1h-1zM507 152h1v1h-1zM508 152h1v1h-1zM509 153h1v1h-1zM510 153h1v1h-1zM511 153h1v1h-1zM512 153h1v1h-1zM513 154h1v1h-1zM514 154h1v1h-1z" fill="#00cc00" shape-rendering="crispEdges"/>
<rect x="2" y="136" width="1" height="15" fill="#000"/>
<rect x="1" y="146" width="1" height="1" fill="#000"/><rect x="3" y="150" width="1" height="1" fill="#000"/>
<rect x="7" y="148" width="1" height="10" fill="#000"/>
<rect x="6" y="149" width="1" height="1" fill="#000"/><rect x="8" y="156" width="1" height="1" fill="#000"/>
<rect x="12" y="143" width="1" height="11" fill="#000"/>
<rect x="11" y="147" width="1" height="1" fill="#000"/><rect x="13" y="147" width="1" height="1" fill="#000"/>
<rect x="17" y="140" width="1" height="20" fill="#000"/>
<rect x="16" y="142" width="1" height="1" fill="#000"/><rect x="18" y="157" width="1" height="1" fill="#000"/>
<rect x="21" y="165" width="1" height="21" fill="#000"/>
<rect x="20" y="168" width="1" height="1" fill="#000"/><rect x="22" y="172" width="1" height="1" fill="#000"/>
<rect x="26" y="173" width="1" height="28" fill="#000"/>
<rect x="25" y="174" width="1" height="1" fill="#000"/><rect x="27" y="183" width="1" height="1" fill="#000"/>
<rect x="31" y="172" width="1" height="17" fill="#000"/>
<rect x="30" y="188" width="1" height="1" fill="#000"/><rect x="32" y="178" width="1" height="1" fill="#000"/>
<rect x="36" y="171" width="1" height="14" fill="#000"/>
<rect x="35" y="181" width="1" height="1" fill="#000"/><rect x="37" y="183" width="1" height="1" fill="#000"/>
<rect x="40" y="176" width="1" height="9" fill="#000"/>
<rect x="39" y="181" width="1" height="1" fill="#000"/><rect x="41" y="176" width="1" height="1" fill="#000"/>
<rect x="45" y="161" width="1" height="39" fill="#000"/>
<rect x="44" y="176" width="1" height="1" fill="#000"/><rect x="46" y="198" width="1" height="1" fill="#000"/>
<rect x="50" y="179" width="1" height="21" fill="#000"/>
<rect x="49" y="179" width="1" height="1" fill="#000"/><rect x="51" y="198" width="1" height="1" fill="#000"/>
<rect x="55" y="179" width="1" height="28" fill="#000"/>
<rect x="54" y="181" width="1" height="1" fill="#000"/><rect x="56" y="206" width="1" height="1" fill="#000"/>
<rect x="59" y="191" width="1" height="13" fill="#000"/>
<rect x="58" y="193" width="1" height="1" fill="#000"/><rect x="60" y="200" width="1" height="1" fill="#000"/>
<rect x="64" y="208" width="1" height="14" fill="#000"/>
<rect x="63" y="211" width="1" height="1" fill="#000"/><rect x="65" y="219" width="1" height="1" fill="#000"/>
<rect x="69" y="215" width="1" height="16" fill="#000"/>
<rect x="68" y="223" width="1" height="1" fill="#000"/><rect x="70" y="223" width="1" height="1" fill="#000"/>
<rect x="74" y="213" width="1" height="14" fill="#000"/>
<rect x="73" y="220" width="1" height="1" fill="#000"/><rect x="75" y="218" width="1" height="1" fill="#000"/>
<rect x="78" y="220" width="1" height="9" fill="#000"/>
<rect x="77" y="224" width="1" height="1" fill="#000"/><rect x="79" y="224" width="1" height="1" fill="#000"/>
<rect x="83" y="223" width="1" height="11" fill="#000"/>
<rect x="82" y="224" width="1" height="1" fill="#000"/><rect x="84" y="228" width="1" height="1" fill="#000"/>
<rect x="88" y="225" width="1" height="19" fill="#000"/>
<rect x="87" y="226" width="1" height="1" fill="#000"/><rect x="89" y="236" width="1" height="1" fill="#000"/>
<rect x="93" y="230" width="1" height="11" fill="#000"/>
<rect x="92" y="230" width="1" height="1" fill="#000"/><rect x="94" y="240" width="1" height="1" fill="#000"/>
<rect x="97" y="231" width="1" height="20" fill="#000"/>
<rect x="96" y="242" width="1" height="1" fill="#000"/><rect x="98" y="233" width="1" height="1" fill="#000"/>
<rect x="102" y="214" width="1" height="21" fill="#000"/>
<rect x="101" y="231" width="1" height="1" fill="#000"/><rect x="103" y="219" width="1" height="1" fill="#000"/>
<rect x="107" y="204" width="1" height="14" fill="#000"/>
<rect x="106" y="210" width="1" height="1" fill="#000"/><rect x="108" y="204" width="1" height="1" fill="#000"/>
<rect x="111" y="202" width="1" height="20" fill="#000"/>
<rect x="110" y="205" width="1" height="1" fill="#000"/><rect x="112" y="211" width="1" height="1" fill="#000"/>
<rect x="116" y="209" width="1" height="10" fill="#000"/>
<rect x="115" y="215" width="1" height="1" fill="#000"/><rect x="117" y="210" width="1" height="1" fill="#000"/>
<rect x="121" y="207" width="1" height="15" fill="#000"/>
<rect x="120" y="211" width="1" height="1" fill="#000"/><rect x="122" y="220" width="1" height="1" fill="#000"/>
<rect x="126" y="220" width="1" height="10" fill="#000"/>
<rect x="125" y="225" width="1" height="1" fill="#000"/><rect x="127" y="222" width="1" height="1" fill="#000"/>
<rect x="130" y="208" width="1" height="27" fill="#000"/>
<rect x="129" y="222" width="1" height="1" fill="#000"/><rect x="131" y="209" width="1" height="1" fill="#000"/>
<rect x="135" y="201" width="1" height="21" fill="#000"/>
<rect x="134" y="210" width="1" height="1" fill="#000"/><rect x="136" y="203" width="1" height="1" fill="#000"/>
<rect x="140" y="209" width="1" height="8" fill="#000"/>
<rect x="139" y="209" width="1" height="1" fill="#000"/><rect x="141" y="213" width="1" height="1" fill="#000"/>
<rect x="145" y="200" width="1" height="10" fill="#000"/>
<rect x="144" y="209" width="1" height="1" fill="#000"/><rect x="146" y="201" width="1" height="1" fill="#000"/>
<rect x="149" y="176" width="1" height="25" fill="#000"/>
<rect x="148" y="199" width="1" height="1" fill="#000"/><rect x="150" y="185" width="1" height="1" fill="#000"/>
<rect x="154" y="163" width="1" height="18" fill="#000"/>
<rect x="153" y="180" width="1" height="1" fill="#000"/><rect x="155" y="169" width="1" height="1" fill="#000"/>
<rect x="159" y="173" width="1" height="10" fill="#000"/>
<rect x="158" y="174" width="1" height="1" fill="#000"/><rect x="160" y="179" width="1" height="1" fill="#000"/>
<rect x="164" y="183" width="1" height="9" fill="#000"/>
<rect x="163" y="188" width="1" height="1" fill="#000"/><rect x="165" y="190" width="1" height="1" fill="#000"/>
<rect x="168" y="182" width="1" height="8" fill="#000"/>
<rect x="167" y="184" width="1" height="1" fill="#000"/><rect x="169" y="182" width="1" height="1" fill="#000"/>
<rect x="173" y="182" width="1" height="12" fill="#000"/>
<rect x="172" y="186" width="1" height="1" fill="#000"/><rect x="174" y="185" width="1" height="1" fill="#000"/>
<rect x="178" y="189" width="1" height="8" fill="#000"/>
<rect x="177" y="191" width="1" height="1" fill="#000"/><rect x="179" y="189" width="1" height="1" fill="#000"/>
<rect x="183" y="179" width="1" height="16" fill="#000"/>
<rect x="182" y="193" width="1" height="1" fill="#000"/><rect x="184" y="181" width="1" height="1" fill="#000"/>
<rect x="187" y="179" width="1" height="10" fill="#000"/>
<rect x="186" y="180" width="1" height="1" fill="#000"/><rect x="188" y="188" width="1" height="1" fill="#000"/>
<rect x="192" y="192" width="1" height="13" fill="#000"/>
<rect x="191" y="195" width="1" height="1" fill="#000"/><rect x="193" y="199" width="1" height="1" fill="#000"/>
<rect x="197" y="194" width="1" height="12" fill="#000"/>
<rect x="196" y="197" width="1" height="1" fill="#000"/><rect x="198" y="196" width="1" height="1" fill="#000"/>
<rect x="202" y="197" width="1" height="12" fill="#000"/>
<rect x="201" y="201" width="1" height="1" fill="#000"/><rect x="203" y="198" width="1" height="1" fill="#000"/>
<rect x="206" y="192" width="1" height="5" fill="#000"/>
<rect x="205" y="193" width="1" height="1" fill="#000"/><rect x="207" y="193" width="1" height="1" fill="#000"/>
<rect x="211" y="182" width="1" height="17" fill="#000"/>
<rect x="210" y="198" width="1" height="1" fill="#000"/><rect x="212" y="182" width="1" height="1" fill="#000"/>
<rect x="216" y="185" width="1" height="16" fill="#000"/>
<rect x="215" y="185" width="1" height="1" fill="#000"/><rect x="217" y="199" width="1" height="1" fill="#000"/>
<rect x="221" y="188" width="1" height="16" fill="#000"/>
<rect x="220" y="203" width="1" height="1" fill="#000"/><rect x="222" y="189" width="1" height="1" fill="#000"/>
<rect x="225" y="189" width="1" height="21" fill="#000"/>
<rect x="224" y="189" width="1" height="1" fill="#000"/><rect x="226" y="198" width="1" height="1" fill="#000"/>
<rect x="230" y="196" width="1" height="16" fill="#000"/>
<rect x="229" y="198" width="1" height="1" fill="#000"/><rect x="231" y="197" width="1" height="1" fill="#000"/>
<rect x="235" y="192" width="1" height="25" fill="#000"/>
<rect x="234" y="192" width="1" height="1" fill="#000"/><rect x="236" y="198" width="1" height="1" fill="#000"/>
<rect x="239" y="189" width="1" height="16" fill="#000"/>
<rect x="238" y="200" width="1" height="1" fill="#000"/><rect x="240" y="202" width="1" height="1" fill="#000"/>
<rect x="244" y="209" width="1" height="17" fill="#000"/>
<rect x="243" y="210" width="1" height="1" fill="#000"/><rect x="245" y="213" width="1" height="1" fill="#000"/>
<rect x="249" y="208" width="1" height="16" fill="#000"/>
<rect x="248" y="221" width="1" height="1" fill="#000"/><rect x="250" y="213" width="1" height="1" fill="#000"/>
<rect x="254" y="212" width="1" height="16" fill="#000"/>
<rect x="253" y="217" width="1" height="1" fill="#000"/><rect x="255" y="223" width="1" height="1" fill="#000"/>
<rect x="258" y="219" width="1" height="13" fill="#000"/>
<rect x="257" y="223" width="1" height="1" fill="#000"/><rect x="259" y="221" width="1" height="1" fill="#000"/>
<rect x="263" y="211" width="1" height="16" fill="#000"/>
<rect x="262" y="211" width="1" height="1" fill="#000"/><rect x="264" y="225" width="1" height="1" fill="#000"/>
<rect x="268" y="210" width="1" height="23" fill="#000"/>
<rect x="267" y="225" width="1" height="1" fill="#000"/><rect x="269" y="218" width="1" height="1" fill="#000"/>
<rect x="273" y="190" width="1" height="14" fill="#000"/>
<rect x="272" y="202" width="1" height="1" fill="#000"/><rect x="274" y="196" width="1" height="1" fill="#000"/>
<rect x="277" y="181" width="1" height="17" fill="#000"/>
<rect x="276" y="189" width="1" height="1" fill="#000"/><rect x="278" y="185" width="1" height="1" fill="#000"/>
<rect x="282" y="184" width="1" height="13" fill="#000"/>
<rect x="281" y="185" width="1" height="1" fill="#000"/><rect x="283" y="191" width="1" height="1" fill="#000"/>
<rect x="287" y="188" width="1" height="9" fill="#000"/>
<rect x="286" y="191" width="1" height="1" fill="#000"/><rect x="288" y="189" width="1" height="1" fill="#000"/>
<rect x="292" y="164" width="1" height="30" fill="#000"/>
<rect x="291" y="190" width="1" height="1" fill="#000"/><rect x="293" y="165" width="1" height="1" fill="#000"/>
<rect x="296" y="158" width="1" height="18" fill="#000"/>
<rect x="295" y="170" width="1" height="1" fill="#000"/><rect x="297" y="158" width="1" height="1" fill="#000"/>
<rect x="301" y="125" width="1" height="25" fill="#000"/>
<rect x="300" y="146" width="1" height="1" fill="#000"/><rect x="302" y="149" width="1" height="1" fill="#000"/>
<rect x="306" y="136" width="1" height="20" fill="#000"/>
<rect x="305" y="153" width="1" height="1" fill="#000"/><rect x="307" y="138" width="1" height="1" fill="#000"/>
<rect x="311" y="126" width="1" height="14" fill="#000"/>
<rect x="310" y="137" width="1" height="1" fill="#000"/><rect x="312" y="127" width="1" height="1" fill="#000"/>
<rect x="315" y="139" width="1" height="17" fill="#000"/>
<rect x="314" y="141" width="1" height="1" fill="#000"/><rect x="316" y="154" width="1" height="1" fill="#000"/>
<rect x="320" y="130" width="1" height="24" fill="#000"/>
<rect x="319" y="152" width="1" height="1" fill="#000"/><rect x="321" y="137" width="1" height="1" fill="#000"/>
<rect x="325" y="132" width="1" height="23" fill="#000"/>
<rect x="324" y="134" width="1" height="1" fill="#000"/><rect x="326" y="149" width="1" height="1" fill="#000"/>
<rect x="330" y="157" width="1" height="15" fill="#000"/>
<rect x="329" y="170" width="1" height="1" fill="#000"/><rect x="331" y="160" width="1" height="1" fill="#000"/>
<rect x="334" y="158" width="1" height="15" fill="#000"/>
<rect x="333" y="159" width="1" height="1" fill="#000"/><rect x="335" y="168" width="1" height="1" fill="#000"/>
<rect x="339" y="168" width="1" height="15" fill="#000"/>
<rect x="338" y="173" width="1" height="1" fill="#000"/><rect x="340" y="180" width="1" height="1" fill="#000"/>
<rect x="344" y="161" width="1" height="24" fill="#000"/>
<rect x="343" y="180" width="1" height="1" fill="#000"/><rect x="345" y="162" width="1" height="1" fill="#000"/>
<rect x="349" y="174" width="1" height="30" fill="#000"/>
<rect x="348" y="193" width="1" height="1" fill="#000"/><rect x="350" y="200" width="1" height="1" fill="#000"/>
<rect x="353" y="186" width="1" height="15" fill="#000"/>
<rect x="352" y="189" width="1" height="1" fill="#000"/><rect x="354" y="187" width="1" height="1" fill="#000"/>
<rect x="358" y="186" width="1" height="11" fill="#000"/>
<rect x="357" y="189" width="1" height="1" fill="#000"/><rect x="359" y="189" width="1" height="1" fill="#000"/>
<rect x="363" y="183" width="1" height="27" fill="#000"/>
<rect x="362" y="188" width="1" height="1" fill="#000"/><rect x="364" y="208" width="1" height="1" fill="#000"/>
<rect x="368" y="188" width="1" height="20" fill="#000"/>
<rect x="367" y="206" width="1" height="1" fill="#000"/><rect x="369" y="188" width="1" height="1" fill="#000"/>
<rect x="372" y="181" width="1" height="10" fill="#000"/>
<rect x="371" y="184" width="1" height="1" fill="#000"/><rect x="373" y="185" width="1" height="1" fill="#000"/>
<rect x="377" y="185" width="1" height="10" fill="#000"/>
<rect x="376" y="189" width="1" height="1" fill="#000"/><rect x="378" y="185" width="1" height="1" fill="#000"/>
<rect x="382" y="178" width="1" height="23" fill="#000"/>
<rect x="381" y="184" width="1" height="1" fill="#000"/><rect x="383" y="189" width="1" height="1" fill="#000"/>
<rect x="386" y="186" width="1" height="25" fill="#000"/>
<rect x="385" y="187" width="1" height="1" fill="#000"/><rect x="387" y="208" width="1" height="1" fill="#000"/>
<rect x="391" y="198" width="1" height="15" fill="#000"/>
<rect x="390" y="209" width="1" height="1" fill="#000"/><rect x="392" y="198" width="1" height="1" fill="#000"/>
<rect x="396" y="178" width="1" height="22" fill="#000"/>
<rect x="395" y="195" width="1" height="1" fill="#000"/><rect x="397" y="179" width="1" height="1" fill="#000"/>
<rect x="401" y="171" width="1" height="15" fill="#000"/>
<rect x="400" y="173" width="1" height="1" fill="#000"/><rect x="402" y="176" width="1" height="1" fill="#000"/>
<rect x="405" y="170" width="1" height="12" fill="#000"/>
<rect x="404" y="180" width="1" height="1" fill="#000"/><rect x="406" y="176" width="1" height="1" fill="#000"/>
<rect x="410" y="159" width="1" height="13" fill="#000"/>
<rect x="409" y="171" width="1" height="1" fill="#000"/><rect x="411" y="168" width="1" height="1" fill="#000"/>
<rect x="415" y="166" width="1" height="14" fill="#000"/>
<rect x="414" y="173" width="1" height="1" fill="#000"/><rect x="416" y="169" width="1" height="1" fill="#000"/>
<rect x="420" y="161" width="1" height="17" fill="#000"/>
<rect x="419" y="176" width="1" height="1" fill="#000"/><rect x="421" y="162" width="1" height="1" fill="#000"/>
<rect x="424" y="146" width="1" height="28" fill="#000"/>
<rect x="423" y="167" width="1" height="1" fill="#000"/><rect x="425" y="148" width="1" height="1" fill="#000"/>
<rect x="429" y="148" width="1" height="15" fill="#000"/>
<rect x="428" y="152" width="1" height="1" fill="#000"/><rect x="430" y="149" width="1" height="1" fill="#000"/>
<rect x="434" y="133" width="1" height="17" fill="#000"/>
<rect x="433" y="148" width="1" height="1" fill="#000"/><rect x="435" y="135" width="1" height="1" fill="#000"/>
<rect x="439" y="130" width="1" height="20" fill="#000"/>
<rect x="438" y="133" width="1" height="1" fill="#000"/><rect x="440" y="131" width="1" height="1" fill="#000"/>
<rect x="443" y="136" width="1" height="30" fill="#000"/>
<rect x="442" y="137" width="1" height="1" fill="#000"/><rect x="444" y="147" width="1" height="1" fill="#000"/>
<rect x="448" y="120" width="1" height="30" fill="#000"/>
<rect x="447" y="140" width="1" height="1" fill="#000"/><rect x="449" y="135" width="1" height="1" fill="#000"/>
<rect x="453" y="133" width="1" height="26" fill="#000"/>
<rect x="452" y="138" width="1" height="1" fill="#000"/><rect x="454" y="153" width="1" height="1" fill="#000"/>
<rect x="458" y="145" width="1" height="24" fill="#000"/>
<rect x="457" y="148" width="1" height="1" fill="#000"/><rect x="459" y="168" width="1" height="1" fill="#000"/>
<rect x="462" y="143" width="1" height="30" fill="#000"/>
<rect x="461" y="172" width="1" height="1" fill="#000"/><rect x="463" y="158" width="1" height="1" fill="#000"/>
<rect x="467" y="122" width="1" height="32" fill="#000"/>
<rect x="466" y="151" width="1" height="1" fill="#000"/><rect x="468" y="129" width="1" height="1" fill="#000"/>
<rect x="472" y="131" width="1" height="17" fill="#000"/>
<rect x="471" y="133" width="1" height="1" fill="#000"/><rect x="473" y="137" width="1" height="1" fill="#000"/>
<rect x="477" y="133" width="1" height="15" fill="#000"/>
<rect x="476" y="133" width="1" height="1" fill="#000"/><rect x="478" y="145" width="1" height="1" fill="#000"/>
<rect x="481" y="134" width="1" height="18" fill="#000"/>
<rect x="480" y="148" width="1" height="1" fill="#000"/><rect x="482" y="141" width="1" height="1" fill="#000"/>
<rect x="486" y="140" width="1" height="13" fill="#000"/>
<rect x="485" y="141" width="1" height="1" fill="#000"/><rect x="487" y="144" width="1" height="1" fill="#000"/>
<rect x="491" y="143" width="1" height="21" fill="#000"/>
<rect x="490" y="145" width="1" height="1" fill="#000"/><rect x="492" y="163" width="1" height="1" fill="#000"/>
<rect x="496" y="151" width="1" height="24" fill="#000"/>
<rect x="495" y="157" width="1" height="1" fill="#000"/><rect x="497" y="171" width="1" height="1" fill="#000"/>
<rect x="500" y="160" width="1" height="15" fill="#000"/>
<rect x="499" y="174" width="1" height="1" fill="#000"/><rect x="501" y="174" width="1" height="1" fill="#000"/>
<rect x="505" y="173" width="1" height="15" fill="#000"/>
<rect x="504" y="176" width="1" height="1" fill="#000"/><rect x="506" y="187" width="1" height="1" fill="#000"/>
<rect x="510" y="185" width="1" height="15" fill="#000"/>
<rect x="509" y="191" width="1" height="1" fill="#000"/><rect x="511" y="188" width="1" height="1" fill="#000"/>
<rect x="514" y="176" width="1" height="19" fill="#000"/>
<rect x="513" y="191" width="1" height="1" fill="#000"/><rect x="515" y="181" width="1" height="1" fill="#000"/>
<rect x="519" y="135" width="43" height="2" fill="#cc0000"/>
<rect x="519" y="244" width="43" height="2" fill="#009900"/>
<path d="M2 367h1v1h-1zM3 367h1v1h-1zM4 368h1v1h-1zM5 369h1v1h-1zM6 369h1v1h-1zM7 370h1v1h-1zM8 371h1v1h-1zM9 371h1v1h-1zM10 372h1v1h-1zM11 373h1v1h-1zM12 373h1v1h-1zM13 374h1v1h-1zM14 374h1v1h-1zM15 375h1v1h-1zM16 376h1v1h-1zM17 376h1v1h-1zM18 377h1v1h-1zM19 378h1v1h-1zM20 379h1v1h-1zM21 380h1v1h-1zM22 381h1v1h-1zM23 381h1v1h-1zM24 382h1v1h-1zM25 382h1v1h-1zM26 383h1v1h-1zM27 383h1v1h-1zM28 384h1v1h-1zM29 384h1v1h-1zM30 385h1v1h-1zM31 385h1v1h-1zM32 386h1v1h-1zM33 386h1v1h-1zM34 387h1v1h-1zM35 388h1v1h-1zM36 388h1v1h-1zM37 389h1v1h-1zM38 389h1v1h-1zM39 390h1v1h-1zM40 390h1v1h-1zM41 391h1v1h-1zM42 392h1v1h-1zM43 392h1v1h-1zM44 393h1v1h-1zM45 393h1v1h-1zM46 393h1v1h-1zM47 393h1v1h-1zM48 394h1v1h-1zM49 394h1v1h-1zM50 394h1v1h-1zM51 395h1v1h-1zM52 395h1v1h-1zM53 395h1v1h-1zM54 395h1v1h-1zM55 396h1v1h-1zM56 396h1v1h-1zM57 396h1v1h-1zM58 397h1v1h-1zM59 397h1v1h-1zM60 397h1v1h-1zM61 398h1v1h-1zM62 398h1v1h-1zM63 398h1v1h-1zM64 399h1v1h-1zM65 399h1v1h-1zM66 400h1v1h-1zM67 400h1v1h-1zM68 400h1v1h-1zM69 401h1v1h-1zM70 401h1v1h-1zM71 402h1v1h-1zM72 402h1v1h-1zM73 402h1v1h-1zM74 403h1v1h-1zM75 403h1v1h-1zM76 403h1v1h-1zM77 404h1v1h-1zM78 404h1v1h-1zM79 404h1v1h-1zM80 404h1v1h-1zM81 405h1v1h-1zM82 405h1v1h-1zM83 405h1v1h-1zM84 405h1v1h-1zM85 406h1v1h-1zM86 406h1v1h-1zM87 406h1v1h-1zM88 406h1v1h-1zM89 406h1v1h-1zM90 407h1v1h-1zM91 407h1v1h-1zM92 407h1v1h-1zM93 407h1v1h-1zM94 407h1v1h-1zM95 407h1v1h-1zM96 407h1v1h-1zM97 407h1v1h-1zM98 407h1v1h-1zM99 407h1v1h-1zM100 407h1v1h-1zM101 407h1v1h-1zM102 407h1v1h-1zM103 407h1v1h-1zM104 406h1v1h-1zM105 406h1v1h-1zM106 406h1v1h-1zM107 405h1v1h-1zM108 405h1v1h-1zM109 405h1v1h-1zM110 404h1v1h-1zM111 404h1v1h-1zM112 403h1v1h-1zM113 403h1v1h-1zM114 402h1v1h-1zM115 402h1v1h-1zM116 401h1v1h-1zM117 401h1v1h-1zM118 400h1v1h-1zM119 400h1v1h-1zM120 399h1v1h-1zM121 399h1v1h-1zM122 398h1v1h-1zM123 398h1v1h-1zM124 397h1v1h-1zM125 397h1v1h-1zM126 397h1v1h-1zM127 396h1v1h-1zM128 396h1v1h-1zM129 395h1v1h-1zM130 395h1v1h-1zM131 394h1v1h-1zM132 394h1v1h-1zM133 393h1v1h-1zM134 393h1v1h-1zM135 392h1v1h-1zM136 392h1v1h-1zM137 391h1v1h-1zM138 391h1v1h-1zM139 390h1v1h-1zM140 389h1v1h-1zM141 389h1v1h-1zM142 388h1v1h-1zM143 388h1v1h-1zM144 387h1v1h-1zM145 386h1v1h-1zM146 386h1v1h-1zM147 385h1v1h-1zM148 384h1v1h-1zM149 383h1v1h-1zM150 383h1v1h-1zM151 382h1v1h-1zM152 381h1v1h-1zM153 380h1v1h-1zM154 380h1v1h-1zM155 379h1v1h-1zM156 378h1v1h-1zM157 377h1v1h-1zM158 376h1v1h-1zM159 376h1v1h-1zM160 375h1v1h-1zM161 374h1v1h-1zM162 374h1v1h-1zM163 373h1v1h-1zM164 372h1v1h-1zM165 371h1v1h-1zM166 371h1v1h-1zM167 370h1v1h-1zM168 369h1v1h-1zM169 368h1v1h-1zM170 368h1v1h-1zM171 367h1v1h-1zM172 367h1v1h-1zM173 366h1v1h-1zM174 366h1v1h-1zM175 365h1v1h-1zM176 365h1v1h-1zM177 364h1v1h-1zM178 363h1v1h-1zM179 363h1v1h-1zM180 362h1v1h-1zM181 362h1v1h-1zM182 361h1v1h-1zM183 361h1v1h-1zM184 360h1v1h-1zM185 360h1v1h-1zM186 359h1v1h-1zM187 359h1v1h-1zM188 358h1v1h-1zM189 358h1v1h-1zM190 358h1v1h-1zM191 358h1v1h-1zM192 358h1v1h-1zM193 357h1v1h-1zM194 357h1v1h-1zM195 357h1v1h-1zM196 357h1v1h-1zM197 357h1v1h-1zM198 357h1v1h-1zM199 357h1v1h-1zM200 356h1v1h-1zM201 356h1v1h-1zM202 356h1v1h-1zM203 356h1v1h-1zM204 356h1v1h-1zM205 356h1v1h-1zM206 356h1v1h-1zM207 356h1v1h-1zM208 356h1v1h-1zM209 356h1v1h-1zM210 356h1v1h-1zM211 356h1v1h-1zM212 356h1v1h-1zM213 355h1v1h-1zM214 355h1v1h-1zM215 355h1v1h-1zM216 355h1v1h-1zM217 355h1v1h-1zM218 355h1v1h-1zM219 355h1v1h-1zM220 355h1v1h-1zM221 355h1v1h-1zM222 355h1v1h-1zM223 355h1v1h-1zM224 355h1v1h-1zM225 355h1v1h-1zM226 355h1v1h-1zM227 355h1v1h-1zM228 355h1v1h-1zM229 355h1v1h-1zM230 355h1v1h-1zM231 355h1v1h-1zM232 355h1v1h-1zM233 355h1v1h-1zM234 355h1v1h-1zM235 356h1v1h-1zM236 356h1v1h-1zM237 356h1v1h-1zM238 356h1v1h-1zM239 356h1v1h-1zM240 356h1v1h-1zM241 356h1v1h-1zM242 357h1v1h-1zM243 357h1v1h-1zM244 357h1v1h-1zM245 357h1v1h-1zM246 357h1v1h-1zM247 357h1v1h-1zM248 358h1v1h-1zM249 358h1v1h-1zM250 358h1v1h-1zM251 358h1v1h-1zM252 359h1v1h-1zM253 359h1v1h-1zM254 359h1v1h-1zM255 359h1v1h-1zM256 360h1v1h-1zM257 360h1v1h-1zM258 360h1v1h-1zM259 360h1v1h-1zM260 361h1v1h-1zM261 361h1v1h-1zM262 361h1v1h-1zM263 362h1v1h-1zM264 362h1v1h-1zM265 362h1v1h-1zM266 363h1v1h-1zM267 363h1v1h-1zM268 363h1v1h-1zM269 363h1v1h-1zM270 363h1v1h-1zM271 363h1v1h-1zM272 363h1v1h-1zM273 363h1v1h-1zM274 363h1v1h-1zM275 363h1v1h-1zM276 363h1v1h-1zM277 363h1v1h-1zM278 363h1v1h-1zM279 362h1v1h-1zM280 362h1v1h-1zM281 362h1v1h-1zM282 361h1v1h-1zM283 361h1v1h-1zM284 361h1v1h-1zM285 361h1v1h-1zM286 360h1v1h-1zM287 360h1v1h-1zM288 359h1v1h-1zM289 359h1v1h-1zM290 358h1v1h-1zM291 358h1v1h-1zM292 357h1v1h-1zM293 357h1v1h-1zM294 357h1v1h-1zM295 356h1v1h-1zM296 356h1v1h-1zM297 355h1v1h-1zM298 355h1v1h-1zM299 354h1v1h-1zM300 354h1v1h-1zM301 353h1v1h-1zM302 352h1v1h-1zM303 351h1v1h-1zM304 351h1v1h-1zM305 350h1v1h-1zM306 349h1v1h-1zM307 348h1v1h-1zM308 347h1v1h-1zM309 346h1v1h-1zM310 346h1v1h-1zM311 345h1v1h-1zM312 344h1v1h-1zM313 343h1v1h-1zM314 342h1v1h-1zM315 341h1v1h-1zM316 341h1v1h-1zM317 340h1v1h-1zM318 340h1v1h-1zM319 339h1v1h-1zM320 339h1v1h-1zM321 338h1v1h-1zM322 338h1v1h-1zM323 337h1v1h-1zM324 337h1v1h-1zM325 336h1v1h-1zM326 336h1v1h-1zM327 335h1v1h-1zM328 335h1v1h-1zM329 335h1v1h-1zM330 334h1v1h-1zM331 334h1v1h-1zM332 334h1v1h-1zM333 333h1v1h-1zM334 333h1v1h-1zM335 333h1v1h-1zM336 333h1v1h-1zM337 333h1v1h-1zM338 333h1v1h-1zM339 333h1v1h-1zM340 333h1v1h-1zM341 333h1v1h-1zM342 334h1v1h-1zM343 334h1v1h-1zM344 334h1v1h-1zM345 334h1v1h-1zM346 335h1v1h-1zM347 335h1v1h-1zM348 336h1v1h-1zM349 336h1v1h-1zM350 337h1v1h-1zM351 337h1v1h-1zM352 337h1v1h-1zM353 338h1v1h-1zM354 338h1v1h-1zM355 339h1v1h-1zM356 339h1v1h-1zM357 340h1v1h-1zM358 340h1v1h-1zM359 341h1v1h-1zM360 341h1v1h-1zM361 342h1v1h-1zM362 342h1v1h-1zM363 343h1v1h-1zM364 343h1v1h-1zM365 344h1v1h-1zM366 344h1v1h-1zM367 345h1v1h-1zM368 345h1v1h-1zM369 346h1v1h-1zM370 346h1v1h-1zM371 346h1v1h-1zM372 347h1v1h-1zM373 347h1v1h-1zM374 347h1v1h-1zM375 348h1v1h-1zM376 348h1v1h-1zM377 349h1v1h-1zM378 349h1v1h-1zM379 349h1v1h-1zM380 350h1v1h-1zM381 350h1v1h-1zM382 351h1v1h-1zM383 351h1v1h-1zM384 352h1v1h-1zM385 352h1v1h-1zM386 352h1v1h-1zM387 353h1v1h-1zM388 353h1v1h-1zM389 354h1v1h-1zM390 354h1v1h-1zM391 354h1v1h-1zM392 355h1v1h-1zM393 355h1v1h-1zM394 356h1v1h-1zM395 356h1v1h-1zM396 356h1v1h-1zM397 356h1v1h-1zM398 356h1v1h-1zM399 356h1v1h-1zM400 356h1v1h-1zM401 356h1v1h-1zM402 356h1v1h-1zM403 356h1v1h-1zM404 356h1v1h-1zM405 356h1v1h-1zM406 356h1v1h-1zM407 356h1v1h-1zM408 356h1v1h-1zM409 356h1v1h-1zM410 356h1v1h-1zM411 356h1v1h-1zM412 356h1v1h-1zM413 355h1v1h-1zM414 355h1v1h-1zM415 355h1v1h-1zM416 354h1v1h-1zM417 354h1v1h-1zM418 354h1v1h-1zM419 354h1v1h-1zM420 353h1v1h-1zM421 353h1v1h-1zM422 353h1v1h-1zM423 352h1v1h-1zM424 352h1v1h-1zM425 352h1v1h-1zM426 351h1v1h-1zM427 351h1v1h-1zM428 350h1v1h-1zM429 350h1v1h-1zM430 349h1v1h-1zM431 349h1v1h-1zM432 349h1v1h-1zM433 348h1v1h-1zM434 348h1v1h-1zM435 347h1v1h-1zM436 347h1v1h-1zM437 346h1v1h-1zM438 346h1v1h-1zM439 345h1v1h-1zM440 345h1v1h-1zM441 344h1v1h-1zM442 343h1v1h-1zM443 343h1v1h-1zM444 342h1v1h-1zM445 342h1v1h-1zM446 341h1v1h-1zM447 341h1v1h-1zM448 341h1v1h-1zM449 341h1v1h-1zM450 340h1v1h-1zM451 340h1v1h-1zM452 340h1v1h-1zM453 340h1v1h-1zM454 340h1v1h-1zM455 340h1v1h-1zM456 340h1v1h-1zM457 340h1v1h-1zM458 340h1v1h-1zM459 340h1v1h-1zM460 340h1v1h-1zM461 340h1v1h-1zM462 340h1v1h-1zM463 339h1v1h-1zM464 339h1v1h-1zM465 339h1v1h-1zM466 339h1v1h-1zM467 339h1v1h-1zM468 339h1v1h-1zM469 339h1v1h-1zM470 339h1v1h-1zM471 339h1v1h-1zM472 339h1v1h-1zM473 339h1v1h-1zM474 339h1v1h-1zM475 338h1v1h-1zM476 338h1v1h-1zM477 338h1v1h-1zM478 338h1v1h-1zM479 338h1v1h-1zM480 338h1v1h-1zM481 338h1v1h-1zM482 338h1v1h-1zM483 338h1v1h-1zM484 338h1v1h-1zM485 338h1v1h-1zM486 338h1v1h-1zM487 338h1v1h-1zM488 338h1v1h-1zM489 338h1v1h-1zM490 338h1v1h-1zM491 338h1v1h-1zM492 338h1v1h-1zM493 338h1v1h-1zM494 339h1v1h-1zM495 339h1v1h-1zM496 340h1v1h-1zM497 340h1v1h-1zM498 341h1v1h-1zM499 341h1v1h-1zM500 342h1v1h-1zM501 342h1v1h-1zM502 343h1v1h-1zM503 343h1v1h-1zM504 344h1v1h-1zM505 344h1v1h-1zM506 345h1v1h-1zM507 345h1v1h-1zM508 346h1v1h-1zM509 346h1v1h-1zM510 347h1v1h-1zM511 347h1v1h-1zM512 348h1v1h-1zM513 348h1v1h-1zM514 349h1v1h-1z" fill="#dd0000" shape-rendering="crispEdges"/>
<path d="M2 382h1v1h-1zM3 382h1v1h-1zM4 383h1v1h-1zM5 383h1v1h-1zM6 384h1v1h-1zM7 385h1v1h-1zM8 385h1v1h-1zM9 385h1v1h-1zM10 386h1v1h-1zM11 386h1v1h-1zM12 386h1v1h-1zM13 386h1v1h-1zM14 386h1v1h-1zM15 386h1v1h-1zM16 387h1v1h-1zM17 388h1v1h-1zM18 388h1v1h-1zM19 389h1v1h-1zM20 390h1v1h-1zM21 391h1v1h-1zM22 392h1v1h-1zM23 393h1v1h-1zM24 394h1v1h-1zM25 394h1v1h-1zM26 395h1v1h-1zM27 395h1v1h-1zM28 396h1v1h-1zM29 397h1v1h-1zM30 397h1v1h-1zM31 398h1v1h-1zM32 398h1v1h-1zM33 398h1v1h-1zM34 398h1v1h-1zM35 398h1v1h-1zM36 398h1v1h-1zM37 398h1v1h-1zM38 399h1v1h-1zM39 399h1v1h-1zM40 399h1v1h-1zM41 400h1v1h-1zM42 400h1v1h-1zM43 401h1v1h-1zM44 401h1v1h-1zM45 402h1v1h-1zM46 402h1v1h-1zM47 401h1v1h-1zM48 401h1v1h-1zM49 400h1v1h-1zM50 400h1v1h-1zM51 400h1v1h-1zM52 401h1v1h-1zM53 401h1v1h-1zM54 402h1v1h-1zM55 402h1v1h-1zM56 402h1v1h-1zM57 403h1v1h-1zM58 403h1v1h-1zM59 403h1v1h-1zM60 403h1v1h-1zM61 404h1v1h-1zM62 404h1v1h-1zM63 405h1v1h-1zM64 405h1v1h-1zM65 406h1v1h-1zM66 406h1v1h-1zM67 407h1v1h-1zM68 407h1v1h-1zM69 408h1v1h-1zM70 408h1v1h-1zM71 408h1v1h-1zM72 408h1v1h-1zM73 408h1v1h-1zM74 408h1v1h-1zM75 408h1v1h-1zM76 408h1v1h-1zM77 408h1v1h-1zM78 409h1v1h-1zM79 409h1v1h-1zM80 409h1v1h-1zM81 409h1v1h-1zM82 409h1v1h-1zM83 409h1v1h-1zM84 409h1v1h-1zM85 409h1v1h-1zM86 409h1v1h-1zM87 410h1v1h-1zM88 410h1v1h-1zM89 410h1v1h-1zM90 410h1v1h-1zM91 411h1v1h-1zM92 411h1v1h-1zM93 410h1v1h-1zM94 410h1v1h-1zM95 410h1v1h-1zM96 409h1v1h-1zM97 409h1v1h-1zM98 408h1v1h-1zM99 408h1v1h-1zM100 407h1v1h-1zM101 407h1v1h-1zM102 406h1v1h-1zM103 405h1v1h-1zM104 404h1v1h-1zM105 403h1v1h-1zM106 402h1v1h-1zM107 401h1v1h-1zM108 400h1v1h-1zM109 399h1v1h-1zM110 398h1v1h-1zM111 397h1v1h-1zM112 396h1v1h-1zM113 395h1v1h-1zM114 395h1v1h-1zM115 394h1v1h-1zM116 393h1v1h-1zM117 393h1v1h-1zM118 392h1v1h-1zM119 392h1v1h-1zM120 391h1v1h-1zM121 391h1v1h-1zM122 390h1v1h-1zM123 390h1v1h-1zM124 390h1v1h-1zM125 389h1v1h-1zM126 388h1v1h-1zM127 387h1v1h-1zM128 387h1v1h-1zM129 386h1v1h-1zM130 385h1v1h-1zM131 384h1v1h-1zM132 384h1v1h-1zM133 383h1v1h-1zM134 383h1v1h-1zM135 382h1v1h-1zM136 382h1v1h-1zM137 382h1v1h-1zM138 381h1v1h-1zM139 381h1v1h-1zM140 380h1v1h-1zM141 380h1v1h-1zM142 379h1v1h-1zM143 378h1v1h-1zM144 378h1v1h-1zM145 377h1v1h-1zM146 376h1v1h-1zM147 375h1v1h-1zM148 373h1v2h-1zM149 372h1v1h-1zM150 370h1v2h-1zM151 369h1v1h-1zM152 367h1v2h-1zM153 366h1v1h-1zM154 365h1v1h-1zM155 364h1v1h-1zM156 363h1v1h-1zM157 362h1v1h-1zM158 361h1v1h-1zM159 361h1v1h-1zM160 360h1v1h-1zM161 360h1v1h-1zM162 359h1v1h-1zM163 358h1v1h-1zM164 358h1v1h-1zM165 357h1v1h-1zM166 357h1v1h-1zM167 356h1v1h-1zM168 356h1v1h-1zM169 356h1v1h-1zM170 355h1v1h-1zM171 355h1v1h-1zM172 354h1v1h-1zM173 354h1v1h-1zM174 354h1v1h-1zM175 354h1v1h-1zM176 354h1v1h-1zM177 354h1v1h-1zM178 354h1v1h-1zM179 353h1v1h-1zM180 353h1v1h-1zM181 353h1v1h-1zM182 352h1v1h-1zM183 352h1v1h-1zM184 352h1v1h-1zM185 352h1v1h-1zM186 352h1v1h-1zM187 352h1v1h-1zM188 352h1v1h-1zM189 352h1v1h-1zM190 352h1v1h-1zM191 352h1v1h-1zM192 352h1v1h-1zM193 352h1v1h-1zM194 352h1v1h-1zM195 353h1v1h-1zM196 353h1v1h-1zM197 354h1v1h-1zM198 354h1v1h-1zM199 354h1v1h-1zM200 354h1v1h-1zM201 355h1v1h-1zM202 355h1v1h-1zM203 355h1v1h-1zM204 355h1v1h-1zM205 355h1v1h-1zM206 355h1v1h-1zM207 355h1v1h-1zM208 354h1v1h-1zM209 354h1v1h-1zM210 353h1v1h-1zM211 353h1v1h-1zM212 353h1v1h-1zM213 353h1v1h-1zM214 353h1v1h-1zM215 354h1v1h-1zM216 354h1v1h-1zM217 354h1v1h-1zM218 354h1v1h-1zM219 354h1v1h-1zM220 354h1v1h-1zM221 354h1v1h-1zM222 354h1v1h-1zM223 354h1v1h-1zM224 354h1v1h-1zM225 354h1v1h-1zM226 354h1v1h-1zM227 355h1v1h-1zM228 355h1v1h-1zM229 356h1v1h-1zM230 356h1v1h-1zM231 357h1v1h-1zM232 357h1v1h-1zM233 357h1v1h-1zM234 357h1v1h-1zM235 357h1v1h-1zM236 357h1v1h-1zM237 357h1v1h-1zM238 357h1v1h-1zM239 358h1v1h-1zM240 358h1v1h-1zM241 358h1v1h-1zM242 359h1v1h-1zM243 359h1v1h-1zM244 360h1v1h-1zM245 360h1v1h-1zM246 360h1v1h-1zM247 361h1v1h-1zM248 361h1v1h-1zM249 361h1v1h-1zM250 362h1v1h-1zM251 362h1v1h-1zM252 363h1v1h-1zM253 363h1v1h-1zM254 364h1v1h-1zM255 364h1v1h-1zM256 365h1v1h-1zM257 366h1v1h-1zM258 366h1v1h-1zM259 366h1v1h-1zM260 366h1v1h-1zM261 366h1v1h-1zM262 367h1v1h-1zM263 367h1v1h-1zM264 367h1v1h-1zM265 367h1v1h-1zM266 368h1v1h-1zM267 368h1v1h-1zM268 368h1v1h-1zM269 367h1v1h-1zM270 366h1v1h-1zM271 366h1v1h-1zM272 365h1v1h-1zM273 364h1v1h-1zM274 363h1v1h-1zM275 362h1v1h-1zM276 361h1v1h-1zM277 360h1v1h-1zM278 360h1v1h-1zM279 359h1v1h-1zM280 359h1v1h-1zM281 358h1v1h-1zM282 358h1v1h-1zM283 357h1v1h-1zM284 357h1v1h-1zM285 357h1v1h-1zM286 356h1v1h-1zM287 355h1v1h-1zM288 355h1v1h-1zM289 354h1v1h-1zM290 353h1v1h-1zM291 352h1v1h-1zM292 351h1v1h-1zM293 350h1v1h-1zM294 349h1v1h-1zM295 347h1v2h-1zM296 346h1v1h-1zM297 345h1v1h-1zM298 344h1v1h-1zM299 343h1v1h-1zM300 342h1v1h-1zM301 340h1v2h-1zM302 339h1v1h-1zM303 338h1v1h-1zM304 337h1v1h-1zM305 336h1v1h-1zM306 335h1v1h-1zM307 333h1v2h-1zM308 332h1v1h-1zM309 331h1v1h-1zM310 330h1v1h-1zM311 328h1v2h-1zM312 328h1v1h-1zM313 328h1v1h-1zM314 328h1v1h-1zM315 328h1v1h-1zM316 328h1v1h-1zM317 328h1v1h-1zM318 327h1v1h-1zM319 326h1v1h-1zM320 326h1v1h-1zM321 326h1v1h-1zM322 326h1v1h-1zM323 326h1v1h-1zM324 326h1v1h-1zM325 326h1v1h-1zM326 326h1v1h-1zM327 326h1v1h-1zM328 327h1v1h-1zM329 327h1v1h-1zM330 328h1v1h-1zM331 328h1v1h-1zM332 329h1v1h-1zM333 329h1v1h-1zM334 330h1v1h-1zM335 331h1v1h-1zM336 332h1v1h-1zM337 333h1v1h-1zM338 333h1v1h-1zM339 334h1v1h-1zM340 334h1v1h-1zM341 335h1v1h-1zM342 335h1v1h-1zM343 335h1v1h-1zM344 336h1v1h-1zM345 336h1v1h-1zM346 337h1v1h-1zM347 338h1v1h-1zM348 339h1v1h-1zM349 340h1v1h-1zM350 341h1v2h-1zM351 343h1v1h-1zM352 344h1v1h-1zM353 345h1v1h-1zM354 345h1v1h-1zM355 346h1v1h-1zM356 347h1v1h-1zM357 348h1v1h-1zM358 348h1v1h-1zM359 349h1v1h-1zM360 350h1v1h-1zM361 351h1v1h-1zM362 352h1v1h-1zM363 353h1v1h-1zM364 354h1v1h-1zM365 354h1v1h-1zM366 354h1v1h-1zM367 354h1v1h-1zM368 355h1v1h-1zM369 355h1v1h-1zM370 355h1v1h-1zM371 355h1v1h-1zM372 355h1v1h-1zM373 356h1v1h-1zM374 356h1v1h-1zM375 356h1v1h-1zM376 357h1v1h-1zM377 357h1v1h-1zM378 357h1v1h-1zM379 357h1v1h-1zM380 357h1v1h-1zM381 357h1v1h-1zM382 357h1v1h-1zM383 358h1v1h-1zM384 358h1v1h-1zM385 359h1v1h-1zM386 360h1v1h-1zM387 361h1v1h-1zM388 361h1v1h-1zM389 361h1v1h-1zM390 362h1v1h-1zM391 362h1v1h-1zM392 362h1v1h-1zM393 361h1v1h-1zM394 361h1v1h-1zM395 360h1v1h-1zM396 360h1v1h-1zM397 359h1v1h-1zM398 359h1v1h-1zM399 358h1v1h-1zM400 358h1v1h-1zM401 357h1v1h-1zM402 357h1v1h-1zM403 356h1v1h-1zM404 356h1v1h-1zM405 355h1v1h-1zM406 355h1v1h-1zM407 354h1v1h-1zM408 354h1v1h-1zM409 354h1v1h-1zM410 353h1v1h-1zM411 353h1v1h-1zM412 352h1v1h-1zM413 352h1v1h-1zM414 352h1v1h-1zM415 351h1v1h-1zM416 351h1v1h-1zM417 350h1v1h-1zM418 350h1v1h-1zM419 349h1v1h-1zM420 349h1v1h-1zM421 348h1v1h-1zM422 348h1v1h-1zM423 347h1v1h-1zM424 346h1v1h-1zM425 346h1v1h-1zM426 345h1v1h-1zM427 345h1v1h-1zM428 344h1v1h-1zM429 344h1v1h-1zM430 343h1v1h-1zM431 343h1v1h-1zM432 342h1v1h-1zM433 341h1v1h-1zM434 340h1v1h-1zM435 339h1v1h-1zM436 338h1v1h-1zM437 337h1v1h-1zM438 336h1v1h-1zM439 335h1v1h-1zM440 335h1v1h-1zM441 335h1v1h-1zM442 335h1v1h-1zM443 335h1v1h-1zM444 335h1v1h-1zM445 335h1v1h-1zM446 334h1v1h-1zM447 334h1v1h-1zM448 333h1v1h-1zM449 333h1v1h-1zM450 333h1v1h-1zM451 334h1v1h-1zM452 334h1v1h-1zM453 335h1v1h-1zM454 335h1v1h-1zM455 336h1v1h-1zM456 337h1v1h-1zM457 337h1v1h-1zM458 338h1v1h-1zM459 338h1v1h-1zM460 339h1v1h-1zM461 339h1v1h-1zM462 339h1v1h-1zM463 339h1v1h-1zM464 338h1v1h-1zM465 338h1v1h-1zM466 337h1v1h-1zM467 337h1v1h-1zM468 337h1v1h-1zM469 337h1v1h-1zM470 336h1v1h-1zM471 336h1v1h-1zM472 336h1v1h-1zM473 336h1v1h-1zM474 336h1v1h-1zM475 336h1v1h-1zM476 336h1v1h-1zM477 336h1v1h-1zM478 336h1v1h-1zM479 337h1v1h-1zM480 337h1v1h-1zM481 337h1v1h-1zM482 337h1v1h-1zM483 337h1v1h-1zM484 337h1v1h-1zM485 338h1v1h-1zM486 338h1v1h-1zM487 338h1v1h-1zM488 339h1v1h-1zM489 339h1v1h-1zM490 339h1v1h-1zM491 340h1v1h-1zM492 341h1v1h-1zM493 342h1v1h-1zM494 343h1v1h-1zM495 344h1v1h-1zM496 344h1v1h-1zM497 345h1v1h-1zM498 346h1v1h-1zM499 347h1v1h-1zM500 348h1v1h-1zM501 349h1v1h-1zM502 350h1v1h-1zM503 351h1v1h-1zM504 352h1v1h-1zM505 353h1v1h-1zM506 354h1v1h-1zM507 355h1v1h-1zM508 356h1v1h-1zM509 357h1v1h-1zM510 357h1v1h-1zM511 358h1v1h-1zM512 359h1v1h-1zM513 359h1v1h-1zM514 360h1v1h-1z" fill="#0000dd" shape-rendering="crispEdges"/>
<rect x="0" y="314" width="570" height="2" fill="#000"/>
<rect x="569" y="9" width="1" height="411" fill="#000"/>
<rect x="0" y="419" width="570" height="1" fill="#000"/>
<rect x="31" y="419" width="1" height="17" fill="#000"/>
<text x="33.9" y="437.7" font-size="12" fill="#000" stroke="#000" stroke-width="0.25" textLength="7.3" lengthAdjust="spacingAndGlyphs">N</text>
<rect x="130" y="419" width="1" height="17" fill="#000"/>
<text x="133.2" y="437.7" font-size="12" fill="#000" stroke="#000" stroke-width="0.25" textLength="7.1" lengthAdjust="spacingAndGlyphs">D</text>
<rect x="225" y="419" width="1" height="17" fill="#000"/>
<text x="228.3" y="437.7" font-size="12" fill="#000" stroke="#000" stroke-width="0.25" textLength="12" lengthAdjust="spacingAndGlyphs">25</text>
<rect x="330" y="419" width="1" height="17" fill="#000"/>
<text x="332.8" y="437.7" font-size="12" fill="#000" stroke="#000" stroke-width="0.25" textLength="5.6" lengthAdjust="spacingAndGlyphs">F</text>
<rect x="424" y="419" width="1" height="17" fill="#000"/>
<text x="427.2" y="437.7" font-size="12" fill="#000" stroke="#000" stroke-width="0.25" textLength="7.6" lengthAdjust="spacingAndGlyphs">M</text>
<rect x="533" y="419" width="1" height="17" fill="#000"/>
<text x="535.4" y="437.7" font-size="12" fill="#000" stroke="#000" stroke-width="0.25" textLength="6.9" lengthAdjust="spacingAndGlyphs">A</text>
<text x="1.1" y="8" font-size="10" fill="#00cc00" stroke="#00cc00" stroke-width="0.3" textLength="21.9" lengthAdjust="spacingAndGlyphs">MA20</text>
<rect x="25" y="4" width="9" height="1" fill="#00cc00"/>
<text x="40.9" y="8" font-size="10" fill="#c4c4c4" stroke="#c4c4c4" stroke-width="0.2" textLength="4.6" lengthAdjust="spacingAndGlyphs">B</text>
<text x="47.3" y="8" font-size="10" fill="#c4c4c4" stroke="#c4c4c4" stroke-width="0.2" textLength="23.7" lengthAdjust="spacingAndGlyphs">Bands</text>
<rect x="72" y="4" width="9" height="1" fill="#c4c4c4"/>
<text x="448.9" y="8.2" font-size="9.5" fill="#000" stroke="#000" stroke-width="0.2">©</text>
<text x="460.6" y="8.3" font-size="10" font-style="italic" fill="#000" stroke="#000" stroke-width="0.25" textLength="17.9" lengthAdjust="spacingAndGlyphs">TEC</text>
<text x="483" y="8.3" font-size="10" font-style="italic" fill="#000" stroke="#000" stroke-width="0.25" textLength="46.8" lengthAdjust="spacingAndGlyphs">30/3/2025</text>
<text x="534.3" y="8.3" font-size="10" font-style="italic" fill="#000" stroke="#000" stroke-width="0.25" textLength="13.7" lengthAdjust="spacingAndGlyphs">3:0</text>
<text x="552.4" y="8.3" font-size="10" font-style="italic" fill="#000" stroke="#000" stroke-width="0.25" textLength="20.9" lengthAdjust="spacingAndGlyphs">GMT</text>
<text x="2.5" y="331.1" font-size="10" fill="#000" stroke="#000" stroke-width="0.2" textLength="28.5" lengthAdjust="spacingAndGlyphs">MACD</text>
<text x="586.6" y="60.1" font-size="12" fill="#c8c8c8" textLength="19.6" lengthAdjust="spacingAndGlyphs">400</text><text x="608" y="58" font-size="10" fill="#c8c8c8" textLength="11.2" lengthAdjust="spacingAndGlyphs">00</text>
<text x="586.6" y="178.7" font-size="12" fill="#c8c8c8" textLength="19.6" lengthAdjust="spacingAndGlyphs">350</text><text x="608" y="176.7" font-size="10" fill="#c8c8c8" textLength="11.2" lengthAdjust="spacingAndGlyphs">00</text>
<text x="593.8" y="140.6" font-size="11" fill="#cc0000" textLength="17.4" lengthAdjust="spacingAndGlyphs">363</text><text x="613.9" y="140.1" font-size="10" fill="#cc0000" textLength="9.1" lengthAdjust="spacingAndGlyphs">88</text>
<text x="570.3" y="249.9" font-size="11" fill="#009900" textLength="17" lengthAdjust="spacingAndGlyphs">318</text><text x="590" y="249" font-size="10" fill="#009900" textLength="9.3" lengthAdjust="spacingAndGlyphs">25</text>
<text x="600.9" y="363.75" font-size="12" fill="#c8c8c8" textLength="5.3" lengthAdjust="spacingAndGlyphs">0</text><text x="608.3" y="361.8" font-size="10" fill="#c8c8c8" textLength="10.9" lengthAdjust="spacingAndGlyphs">00</text>
<text x="596" y="385.9" font-size="12" fill="#c8c8c8" textLength="10.2" lengthAdjust="spacingAndGlyphs">-5</text><text x="608.3" y="383.9" font-size="10" fill="#c8c8c8" textLength="10.9" lengthAdjust="spacingAndGlyphs">00</text>
</svg></body></html>
